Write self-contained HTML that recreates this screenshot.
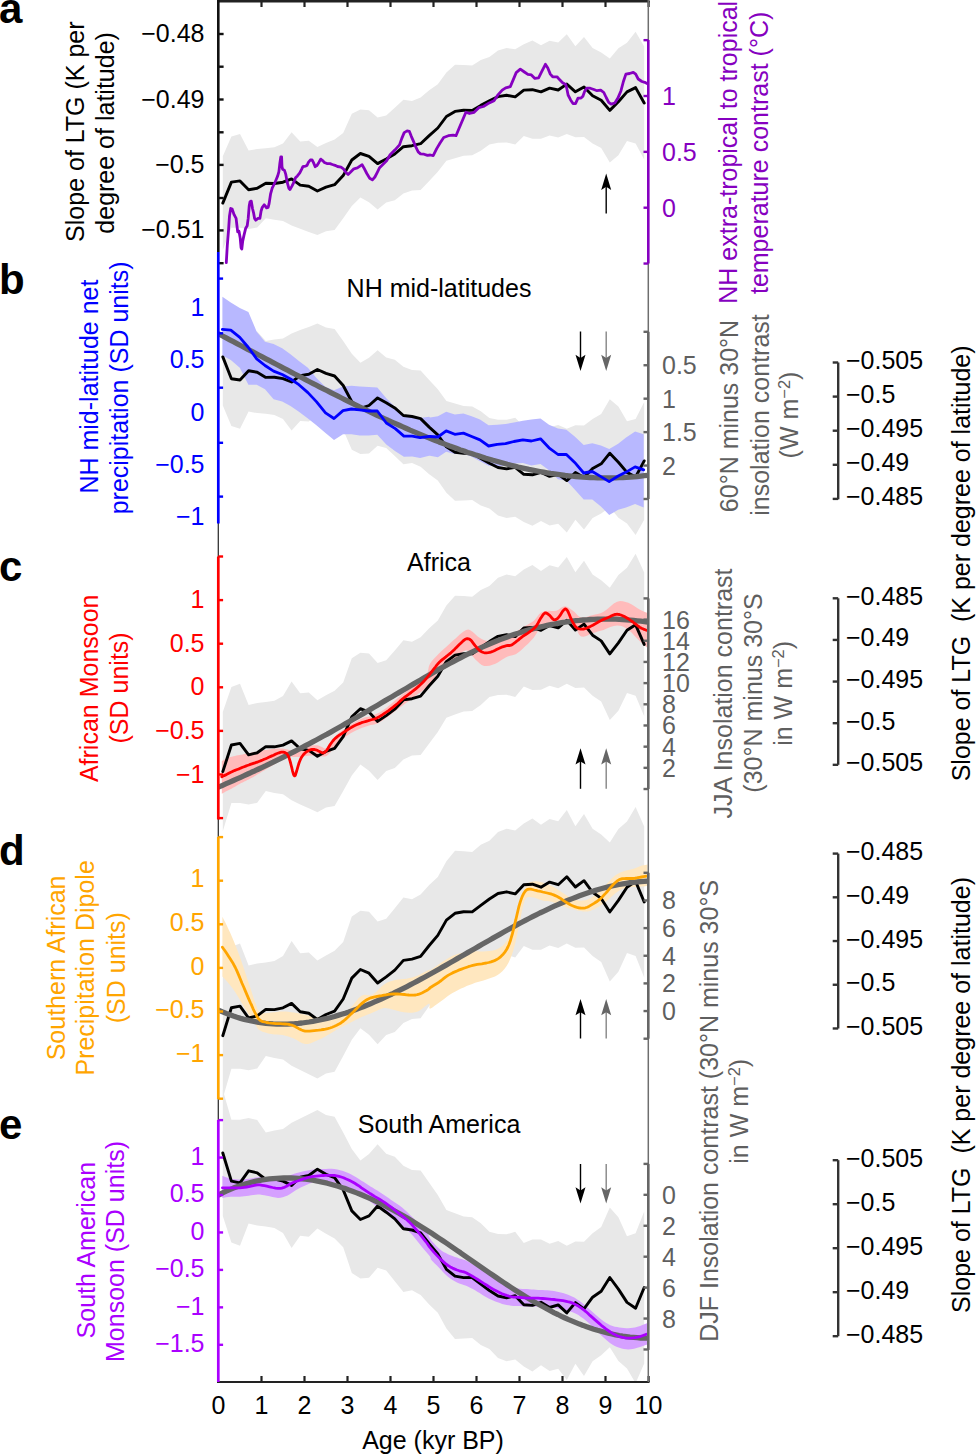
<!DOCTYPE html>
<html><head><meta charset="utf-8"><style>
html,body{margin:0;padding:0;background:#fff;}
svg{display:block;}
text{font-family:"Liberation Sans",sans-serif;}
</style></head><body>
<svg width="976" height="1455" viewBox="0 0 976 1455">
<defs><clipPath id="pc"><rect x="218" y="0" width="431" height="1382"/></clipPath></defs>
<g clip-path="url(#pc)" stroke-linejoin="round" stroke-linecap="round">

<polygon points="222.8,156.2 231.4,136.5 240.0,134.0 248.6,150.6 257.2,149.0 265.8,148.3 274.4,147.2 283.0,143.5 291.6,132.2 300.2,141.4 308.8,140.8 317.4,146.9 326.0,143.0 334.6,139.4 343.2,132.9 351.8,113.8 360.4,109.6 369.0,110.2 377.6,117.6 386.2,115.5 394.8,107.7 403.4,99.7 412.0,101.0 420.6,97.4 429.2,90.2 437.8,84.2 446.4,72.4 455.0,64.7 463.6,64.9 472.2,65.5 480.8,60.1 489.4,57.1 498.0,50.6 506.6,48.1 515.2,49.3 523.8,44.2 532.4,40.6 541.0,45.2 549.6,40.7 558.2,42.5 566.8,34.2 575.4,46.3 584.0,37.1 592.6,48.1 601.2,52.5 609.8,58.5 618.4,48.3 627.0,42.7 635.6,31.8 644.2,46.4 644.2,159.5 635.6,143.4 627.0,141.1 618.4,155.2 609.8,162.4 601.2,148.0 592.6,143.4 584.0,136.9 575.4,137.2 566.8,134.0 558.2,137.5 549.6,135.5 541.0,138.7 532.4,138.8 523.8,136.0 515.2,144.4 506.6,142.5 498.0,142.7 489.4,144.4 480.8,150.7 472.2,155.3 463.6,155.7 455.0,158.2 446.4,160.7 437.8,171.8 429.2,180.9 420.6,190.0 412.0,190.5 403.4,193.6 394.8,200.3 386.2,202.5 377.6,209.5 369.0,202.3 360.4,197.5 351.8,206.1 343.2,218.2 334.6,230.0 326.0,231.3 317.4,235.1 308.8,231.9 300.2,228.8 291.6,225.6 283.0,220.9 274.4,219.8 265.8,218.3 257.2,227.5 248.6,229.0 240.0,227.8 231.4,227.8 222.8,249.9" fill="#e8e8e8"/>
<polyline points="222.8,203.1 231.4,182.1 240.0,180.9 248.6,189.8 257.2,188.3 265.8,183.3 274.4,183.5 283.0,182.2 291.6,178.9 300.2,185.1 308.8,186.3 317.4,191.0 326.0,187.2 334.6,184.7 343.2,175.6 351.8,160.0 360.4,153.5 369.0,156.3 377.6,163.6 386.2,159.0 394.8,154.0 403.4,146.7 412.0,145.7 420.6,143.7 429.2,135.6 437.8,128.0 446.4,116.5 455.0,111.4 463.6,110.3 472.2,110.4 480.8,105.4 489.4,100.8 498.0,96.6 506.6,95.3 515.2,96.9 523.8,90.1 532.4,89.7 541.0,91.9 549.6,88.1 558.2,90.0 566.8,84.1 575.4,91.8 584.0,87.0 592.6,95.7 601.2,100.2 609.8,110.4 618.4,101.8 627.0,91.9 635.6,87.6 644.2,103.0" fill="none" stroke="#000" stroke-width="2.9"/>

<polyline points="226.3,262.6 227.3,245.4 228.5,230.7 229.5,215.9 230.7,208.5 232.2,209.1 234.1,214.7 236.1,218.4 237.1,227.0 237.7,231.9 239.0,231.3 240.2,238.0 241.1,247.9 241.8,249.1 242.7,241.1 243.9,235.6 245.7,228.2 247.2,225.7 248.2,218.4 249.2,206.1 250.0,201.8 251.3,201.1 252.5,208.5 253.7,213.4 254.6,218.4 255.8,220.2 258.0,218.4 259.9,218.4 261.1,211.0 262.3,207.3 264.2,204.8 265.4,206.1 266.6,207.9 268.1,207.5 269.1,203.6 270.6,193.8 272.2,188.2 274.0,184.5 275.9,180.2 277.7,175.9 278.9,171.6 279.9,163.0 280.8,156.9 281.6,156.9 282.0,166.7 282.6,169.2 284.5,170.4 285.7,174.1 287.3,182.7 288.8,188.2 290.0,189.5 291.8,186.4 293.7,182.7 295.5,177.8 297.4,175.9 299.8,172.9 301.7,169.2 302.9,166.7 305.4,166.1 307.0,165.5 308.4,162.4 310.3,160.0 312.1,160.0 313.4,162.4 315.2,166.7 317.0,165.5 318.9,162.4 320.7,159.1 322.6,160.6 324.4,162.4 326.9,163.6 330.0,163.6 332.4,164.5 335.0,165.3 337.5,166.5 341.0,167.1 343.4,168.8 345.7,172.3 348.1,174.5 350.4,172.3 353.9,168.8 357.4,167.9 360.3,165.9 362.1,164.8 363.8,167.7 366.8,173.5 369.7,178.2 372.4,179.9 374.9,177.0 377.3,172.3 379.6,167.7 383.1,164.2 386.6,160.7 390.1,154.8 394.8,150.1 399.5,144.9 401.8,138.4 404.2,132.6 407.1,130.9 409.4,131.4 411.2,136.1 413.5,141.4 415.9,147.2 418.2,151.9 420.5,153.9 424.0,154.2 427.5,155.4 430.3,155.0 433.2,155.6 436.7,148.6 440.2,142.7 443.7,137.5 448.4,135.7 453.1,135.1 456.0,135.7 458.9,128.7 462.4,120.5 465.9,112.3 469.4,113.5 474.1,112.3 478.8,107.7 483.4,106.5 488.1,103.6 494.0,100.7 497.5,95.4 502.2,90.1 505.7,87.8 510.3,86.6 513.8,78.4 516.2,72.6 520.3,69.1 524.4,72.0 527.9,74.4 531.4,74.9 534.9,78.4 538.6,77.8 541.7,71.6 545.4,64.3 547.8,68.0 550.3,74.1 552.7,76.8 557.0,76.8 559.5,79.6 562.6,82.7 565.7,84.5 566.9,88.9 568.1,95.0 570.6,99.9 573.0,103.6 575.5,103.6 578.0,98.1 581.0,98.1 582.9,96.2 584.7,91.3 586.6,88.2 590.2,88.2 593.9,89.5 597.0,90.7 600.7,90.1 603.8,92.5 606.2,97.5 608.7,102.4 611.1,104.2 614.8,103.0 617.9,98.1 621.0,90.7 623.4,81.5 625.9,74.1 629.6,73.5 633.3,72.3 635.7,74.1 638.2,79.0 641.9,81.5 645.6,82.7 648.0,83.9" fill="none" stroke="#8600c0" stroke-width="2.8"/>
<polygon points="222.8,405.6 231.4,426.1 240.0,428.7 248.6,411.5 257.2,413.1 265.8,413.8 274.4,414.9 283.0,418.9 291.6,430.5 300.2,421.0 308.8,421.6 317.4,415.3 326.0,419.3 334.6,423.1 343.2,429.8 351.8,449.7 360.4,454.1 369.0,453.4 377.6,445.7 386.2,447.9 394.8,456.0 403.4,464.3 412.0,463.0 420.6,466.8 429.2,474.2 437.8,480.5 446.4,492.7 455.0,500.7 463.6,500.5 472.2,499.9 480.8,505.5 489.4,508.6 498.0,515.4 506.6,517.9 515.2,516.7 523.8,522.0 532.4,525.8 541.0,521.0 549.6,525.6 558.2,523.8 566.8,532.4 575.4,519.8 584.0,529.4 592.6,518.0 601.2,513.4 609.8,507.2 618.4,517.7 627.0,523.6 635.6,535.0 644.2,519.7 644.2,402.1 635.6,419.0 627.0,421.3 618.4,406.6 609.8,399.2 601.2,414.1 592.6,418.9 584.0,425.6 575.4,425.3 566.8,428.7 558.2,425.0 549.6,427.2 541.0,423.8 532.4,423.7 523.8,426.6 515.2,417.8 506.6,419.8 498.0,419.7 489.4,417.9 480.8,411.3 472.2,406.5 463.6,406.1 455.0,403.6 446.4,400.9 437.8,389.3 429.2,379.9 420.6,370.5 412.0,370.0 403.4,366.7 394.8,359.8 386.2,357.5 377.6,350.2 369.0,357.7 360.4,362.7 351.8,353.7 343.2,341.1 334.6,328.9 326.0,327.5 317.4,323.6 308.8,327.0 300.2,330.1 291.6,333.5 283.0,338.4 274.4,339.5 265.8,341.0 257.2,331.5 248.6,330.0 240.0,331.2 231.4,331.2 222.8,308.2" fill="#e8e8e8"/>
<polygon points="222.4,296.8 230.8,302.4 239.8,308.0 248.4,311.9 256.7,331.7 265.0,341.8 273.6,344.1 282.2,348.2 290.5,354.2 298.9,361.0 307.9,367.8 316.4,377.9 325.5,386.9 334.0,390.3 343.0,386.5 351.4,385.8 359.7,386.5 368.7,386.9 377.3,387.4 386.3,398.2 395.3,407.2 403.9,415.1 412.2,416.2 420.1,418.0 429.1,416.7 430.0,417.4 437.9,416.2 446.2,411.7 454.8,414.4 463.4,413.5 471.7,416.2 480.0,419.6 488.6,425.2 497.2,424.8 505.5,424.1 513.9,422.5 522.9,420.7 531.4,419.6 540.5,418.5 549.0,424.8 558.0,428.6 566.4,429.8 574.7,436.5 583.7,445.1 592.3,443.3 600.9,445.5 609.2,448.9 618.2,443.7 626.1,437.6 635.1,431.6 643.7,434.3 643.7,507.5 635.1,504.1 626.1,507.5 618.2,509.8 609.2,515.0 600.9,506.4 592.3,499.6 583.7,499.6 574.7,489.5 566.4,480.5 558.0,479.3 549.0,470.3 540.5,464.0 531.4,465.4 522.9,463.1 513.9,463.6 505.5,465.8 497.2,466.3 488.6,465.8 480.0,461.3 471.7,456.8 463.4,453.4 454.8,454.1 446.2,451.8 437.9,457.3 430.0,455.7 429.1,455.7 420.1,457.9 412.2,456.4 403.9,456.8 395.3,451.2 386.3,444.4 377.3,434.7 368.7,435.4 359.7,435.4 351.4,434.3 343.0,434.3 334.0,439.9 325.5,433.1 316.4,425.2 307.9,418.5 298.9,411.7 290.5,406.1 282.2,401.6 273.6,399.3 265.0,389.2 256.7,384.7 248.4,384.7 239.8,367.8 230.8,359.9 222.4,355.4" fill="#b8b8ff"/>
<polyline points="222.8,356.9 231.4,378.7 240.0,380.0 248.6,370.7 257.2,372.3 265.8,377.4 274.4,377.2 283.0,378.6 291.6,382.0 300.2,375.6 308.8,374.3 317.4,369.5 326.0,373.4 334.6,376.0 343.2,385.5 351.8,401.7 360.4,408.4 369.0,405.5 377.6,397.9 386.2,402.7 394.8,407.9 403.4,415.5 412.0,416.5 420.6,418.6 429.2,427.1 437.8,434.9 446.4,446.8 455.0,452.2 463.6,453.3 472.2,453.2 480.8,458.4 489.4,463.2 498.0,467.5 506.6,468.9 515.2,467.3 523.8,474.3 532.4,474.8 541.0,472.4 549.6,476.4 558.2,474.4 566.8,480.6 575.4,472.6 584.0,477.5 592.6,468.5 601.2,463.8 609.8,453.2 618.4,462.2 627.0,472.4 635.6,477.0 644.2,460.9" fill="none" stroke="#000" stroke-width="2.9"/>
<polyline points="219.0,334.1 222.6,336.0 226.2,337.9 229.8,339.8 233.4,341.7 237.0,343.6 240.6,345.5 244.2,347.4 247.8,349.3 251.4,351.2 255.1,353.1 258.7,355.0 262.3,356.9 265.9,358.8 269.5,360.7 273.1,362.6 276.7,364.5 280.3,366.4 283.9,368.3 287.5,370.2 291.1,372.1 294.7,374.0 298.3,375.9 301.9,377.7 305.5,379.6 309.1,381.5 312.7,383.4 316.3,385.2 319.9,387.1 323.5,388.9 327.2,390.7 330.8,392.6 334.4,394.4 338.0,396.2 341.6,398.0 345.2,399.8 348.8,401.6 352.4,403.4 356.0,405.1 359.6,406.9 363.2,408.6 366.8,410.4 370.4,412.1 374.0,413.8 377.6,415.5 381.2,417.2 384.8,418.8 388.4,420.5 392.0,422.1 395.6,423.7 399.3,425.3 402.9,426.9 406.5,428.5 410.1,430.1 413.7,431.6 417.3,433.1 420.9,434.6 424.5,436.1 428.1,437.6 431.7,439.0 435.3,440.5 438.9,441.9 442.5,443.2 446.1,444.6 449.7,446.0 453.3,447.3 456.9,448.6 460.5,449.9 464.1,451.1 467.7,452.4 471.4,453.6 475.0,454.8 478.6,455.9 482.2,457.0 485.8,458.2 489.4,459.2 493.0,460.3 496.6,461.3 500.2,462.3 503.8,463.3 507.4,464.3 511.0,465.2 514.6,466.1 518.2,467.0 521.8,467.8 525.4,468.6 529.0,469.4 532.6,470.1 536.2,470.8 539.8,471.5 543.5,472.2 547.1,472.8 550.7,473.4 554.3,473.9 557.9,474.4 561.5,474.9 565.1,475.4 568.7,475.8 572.3,476.2 575.9,476.5 579.5,476.8 583.1,477.1 586.7,477.3 590.3,477.5 593.9,477.7 597.5,477.8 601.1,477.9 604.7,477.9 608.3,477.9 611.9,477.9 615.6,477.8 619.2,477.7 622.8,477.5 626.4,477.3 630.0,477.1 633.6,476.8 637.2,476.5 640.8,476.1 644.4,475.7 648.0,475.3" fill="none" stroke="#666" stroke-width="5.3"/>
<polyline points="222.4,329.4 230.8,330.1 239.8,337.3 248.4,347.5 256.7,358.8 265.0,365.5 273.6,371.1 282.2,374.5 290.5,379.0 298.9,384.7 307.9,392.6 316.4,401.6 325.5,412.8 334.0,418.5 343.0,410.6 351.4,409.0 359.7,409.9 368.7,411.0 377.3,411.0 386.3,423.0 395.3,428.6 403.9,436.1 412.2,436.1 420.1,437.6 429.1,436.5 430.0,436.5 437.9,437.0 446.2,430.9 454.8,434.3 463.4,433.1 471.7,436.5 480.0,439.9 488.6,446.0 497.2,444.4 505.5,443.7 513.9,441.5 522.9,439.9 531.4,441.0 540.5,438.8 549.0,447.8 558.0,454.5 566.4,454.5 574.7,462.4 583.7,473.0 592.3,471.5 600.9,476.6 609.2,481.6 618.2,476.0 626.1,472.1 635.1,466.9 643.7,469.9" fill="none" stroke="#0000ff" stroke-width="2.8"/>
<polygon points="222.8,712.1 231.4,686.9 240.0,683.8 248.6,704.9 257.2,702.9 265.8,702.1 274.4,700.7 283.0,695.9 291.6,681.6 300.2,693.2 308.8,692.4 317.4,700.2 326.0,695.3 334.6,690.7 343.2,682.5 351.8,658.2 360.4,652.8 369.0,653.6 377.6,663.0 386.2,660.3 394.8,650.4 403.4,640.2 412.0,641.8 420.6,637.2 429.2,628.2 437.8,620.4 446.4,605.5 455.0,595.7 463.6,596.0 472.2,596.7 480.8,589.9 489.4,586.1 498.0,577.7 506.6,574.6 515.2,576.2 523.8,569.6 532.4,565.0 541.0,570.9 549.6,565.3 558.2,567.5 566.8,556.9 575.4,572.3 584.0,560.7 592.6,574.6 601.2,580.2 609.8,587.8 618.4,574.9 627.0,567.7 635.6,553.8 644.2,572.5 644.2,716.3 635.6,695.7 627.0,692.9 618.4,710.8 609.8,719.9 601.2,701.6 592.6,695.8 584.0,687.6 575.4,687.9 566.8,683.8 558.2,688.3 549.6,685.7 541.0,689.8 532.4,689.9 523.8,686.4 515.2,697.1 506.6,694.7 498.0,694.9 489.4,697.1 480.8,705.1 472.2,710.9 463.6,711.5 455.0,714.6 446.4,717.8 437.8,732.0 429.2,743.5 420.6,755.0 412.0,755.6 403.4,759.6 394.8,768.1 386.2,771.0 377.6,779.9 369.0,770.7 360.4,764.5 351.8,775.5 343.2,790.9 334.6,805.9 326.0,807.6 317.4,812.3 308.8,808.3 300.2,804.4 291.6,800.2 283.0,794.3 274.4,793.0 265.8,791.1 257.2,802.7 248.6,804.6 240.0,803.1 231.4,803.0 222.8,831.2" fill="#e8e8e8"/>
<polygon points="221.8,761.2 222.7,760.6 224.1,759.8 225.7,758.9 227.3,758.1 228.8,757.6 230.3,757.1 231.9,756.7 233.4,756.3 235.0,755.9 236.5,755.6 238.1,755.3 239.6,755.0 241.1,754.7 242.7,754.4 244.2,754.1 245.7,753.8 247.3,753.5 248.8,753.2 250.3,752.9 251.9,752.6 253.4,752.3 255.0,752.0 256.5,751.7 258.0,751.4 259.6,751.0 261.1,750.7 262.6,750.4 264.2,750.1 265.7,749.9 267.3,749.7 268.8,749.5 270.3,749.3 271.9,749.1 273.4,748.8 274.9,748.7 276.5,748.5 278.0,748.4 279.6,748.4 281.2,748.4 282.6,748.5 283.9,748.7 285.1,748.9 286.3,749.2 287.5,749.5 289.0,749.9 290.5,750.3 292.0,750.6 293.7,750.7 295.4,750.6 297.3,750.4 299.2,750.0 301.1,749.5 302.9,748.8 304.8,748.0 306.6,747.1 308.4,746.4 310.3,745.9 312.3,745.6 314.1,745.3 315.8,745.2 317.2,745.3 318.4,745.6 319.6,746.0 320.7,746.4 322.0,747.0 323.2,747.8 324.4,748.4 325.7,748.3 326.9,747.3 328.0,745.8 329.3,743.9 330.6,742.1 332.0,740.3 333.4,738.5 335.0,736.5 336.7,734.7 338.8,732.9 341.1,731.2 343.4,729.5 345.7,727.9 348.0,726.4 350.2,725.0 352.5,723.6 354.8,722.3 357.0,721.0 359.3,719.8 361.5,718.7 363.8,717.8 366.0,717.1 368.3,716.7 370.5,716.2 372.8,715.5 375.0,714.6 377.3,713.6 379.5,712.4 381.8,711.0 384.1,709.5 386.3,707.9 388.6,706.1 390.8,704.3 393.1,702.3 395.3,700.3 397.6,698.3 399.8,696.4 402.1,694.6 404.3,692.9 406.6,691.3 408.9,689.6 411.1,688.0 413.4,686.4 415.6,684.7 417.9,682.8 420.3,680.8 422.7,678.6 425.0,676.2 426.9,673.8 427.9,671.4 428.4,668.8 428.9,666.3 430.0,663.7 431.7,661.2 433.9,658.8 436.3,656.2 439.0,653.5 442.1,650.6 445.5,647.4 449.1,644.2 452.5,641.1 456.1,637.9 459.7,634.6 463.2,631.7 466.1,629.9 468.2,629.4 469.9,629.9 471.3,631.0 472.8,632.1 474.5,633.4 476.1,634.9 477.7,636.4 479.6,637.8 481.6,638.9 483.8,640.0 486.1,640.8 488.6,641.1 491.3,640.8 494.1,639.9 497.0,638.8 499.9,637.8 502.7,637.0 505.5,636.3 508.3,635.5 511.1,634.4 514.0,632.9 516.8,631.2 519.6,629.4 522.4,627.6 525.3,626.0 528.3,624.3 531.2,622.6 533.7,620.9 535.7,618.8 537.4,616.6 538.9,614.6 540.5,613.0 542.1,612.0 543.7,611.4 545.4,611.0 547.2,610.7 549.3,610.7 551.6,610.9 553.9,611.0 556.2,610.7 558.5,609.7 560.7,608.1 563.0,606.7 565.2,606.2 567.6,606.9 569.9,608.4 572.2,610.2 574.3,611.8 576.0,613.4 577.5,615.2 579.1,616.6 581.0,617.5 583.5,617.5 586.4,616.9 589.4,616.1 592.3,615.2 595.1,614.6 597.8,614.0 600.6,613.2 603.6,611.8 606.8,609.5 610.3,606.5 613.8,603.6 617.1,601.7 620.1,601.1 622.9,601.2 625.6,601.9 628.4,602.8 631.3,604.2 634.2,606.1 637.1,608.0 639.6,609.6 642.0,610.8 644.3,611.7 646.2,612.4 647.5,613.0 647.5,647.9 646.2,646.8 644.3,645.2 642.0,643.3 639.6,641.1 637.1,638.5 634.2,635.4 631.3,632.3 628.4,629.9 625.6,628.1 622.9,626.6 620.1,625.7 617.1,625.4 613.8,625.9 610.3,627.1 606.8,628.6 603.6,629.9 600.6,630.8 597.8,631.6 595.1,632.4 592.3,633.3 589.4,634.4 586.4,635.9 583.5,636.8 581.0,636.6 579.1,634.7 577.5,631.6 576.0,628.2 574.3,625.4 572.2,623.0 569.9,620.8 567.6,619.2 565.2,618.6 563.0,619.8 560.7,622.2 558.5,624.8 556.2,626.5 553.9,626.8 551.6,626.3 549.3,625.6 547.2,625.4 545.4,625.5 543.7,625.8 542.1,626.4 540.5,627.6 538.8,629.6 537.2,632.3 535.5,635.1 533.7,637.8 531.6,640.1 529.3,642.4 527.0,644.7 524.7,646.8 522.4,648.9 520.2,650.9 517.9,652.7 515.7,654.2 513.5,655.1 511.3,655.6 509.1,656.1 506.6,656.9 504.0,658.4 501.1,660.3 498.2,662.2 495.4,663.7 492.5,664.8 489.6,665.7 486.8,666.1 484.1,665.9 481.7,664.9 479.4,663.3 477.3,661.2 475.1,659.2 472.9,656.6 470.9,653.5 468.6,651.0 466.1,650.2 463.0,651.6 459.6,654.6 456.0,658.2 452.5,661.4 449.0,664.0 445.4,666.5 442.0,669.0 439.0,671.6 436.5,674.6 434.4,677.8 432.7,680.7 431.4,682.8 430.8,683.7 430.7,683.7 430.6,683.5 430.0,684.0 428.6,685.3 426.7,687.0 424.5,688.9 422.4,690.7 420.2,692.4 418.0,694.1 415.6,695.8 413.4,697.5 411.1,699.2 408.9,700.9 406.6,702.6 404.3,704.3 402.1,706.0 399.8,707.6 397.6,709.3 395.3,711.0 393.1,712.7 390.8,714.5 388.6,716.2 386.3,717.8 384.1,719.4 381.8,720.9 379.5,722.3 377.3,723.4 375.0,724.2 372.8,724.7 370.5,725.1 368.3,725.7 366.0,726.4 363.8,727.2 361.5,728.1 359.3,729.1 357.0,730.1 354.8,731.1 352.5,732.3 350.2,733.6 348.0,735.0 345.8,736.6 343.5,738.3 341.2,740.3 338.8,742.8 336.3,745.6 333.9,748.4 331.8,750.7 330.3,752.4 329.1,753.8 328.0,754.8 326.9,755.7 325.7,756.2 324.5,756.5 323.3,756.6 322.0,756.6 320.5,756.5 319.0,756.2 317.5,755.9 315.8,755.7 314.1,755.6 312.2,755.5 310.3,755.5 308.4,755.7 306.6,755.9 304.8,756.3 302.9,756.6 301.1,756.9 299.2,757.0 297.3,757.0 295.4,756.9 293.7,756.9 292.0,756.8 290.5,756.7 289.0,756.7 287.5,756.9 286.3,757.3 285.1,757.9 283.9,758.6 282.6,759.3 281.2,760.2 279.6,761.1 278.0,762.1 276.5,763.0 274.9,764.0 273.4,764.9 271.9,765.8 270.3,766.7 268.8,767.6 267.3,768.6 265.7,769.5 264.2,770.4 262.6,771.3 261.1,772.3 259.6,773.2 258.0,774.1 256.5,775.0 255.0,776.0 253.4,776.9 251.9,777.8 250.3,778.6 248.8,779.4 247.3,780.1 245.7,780.9 244.2,781.6 242.7,782.4 241.1,783.1 239.6,783.9 238.1,784.8 236.5,785.8 235.0,786.7 233.4,787.6 231.9,788.4 230.3,789.2 228.8,789.9 227.3,790.7 225.7,791.5 224.1,792.4 222.7,793.2 221.8,793.8" fill="#ffbbbb"/>
<polyline points="222.8,771.6 231.4,745.0 240.0,743.4 248.6,754.8 257.2,752.8 265.8,746.6 274.4,746.8 283.0,745.1 291.6,740.9 300.2,748.8 308.8,750.4 317.4,756.3 326.0,751.4 334.6,748.3 343.2,736.7 351.8,716.8 360.4,708.7 369.0,712.1 377.6,721.4 386.2,715.6 394.8,709.2 403.4,699.9 412.0,698.7 420.6,696.1 429.2,685.8 437.8,676.2 446.4,661.6 455.0,655.1 463.6,653.7 472.2,653.8 480.8,647.5 489.4,641.6 498.0,636.3 506.6,634.6 515.2,636.6 523.8,628.0 532.4,627.5 541.0,630.3 549.6,625.5 558.2,627.9 566.8,620.4 575.4,630.1 584.0,624.1 592.6,635.2 601.2,640.9 609.8,653.9 618.4,642.9 627.0,630.3 635.6,624.8 644.2,644.4" fill="none" stroke="#000" stroke-width="2.9"/>
<polyline points="219.0,786.9 222.6,785.3 226.2,783.7 229.8,782.1 233.4,780.5 237.0,778.9 240.6,777.3 244.2,775.7 247.8,774.0 251.4,772.3 255.1,770.7 258.7,769.0 262.3,767.3 265.9,765.6 269.5,763.8 273.1,762.1 276.7,760.3 280.3,758.6 283.9,756.8 287.5,755.0 291.1,753.2 294.7,751.3 298.3,749.5 301.9,747.6 305.5,745.7 309.1,743.8 312.7,741.9 316.3,740.0 319.9,738.0 323.5,736.0 327.2,734.1 330.8,732.1 334.4,730.0 338.0,728.0 341.6,726.0 345.2,723.9 348.8,721.9 352.4,719.8 356.0,717.7 359.6,715.7 363.2,713.6 366.8,711.5 370.4,709.4 374.0,707.3 377.6,705.2 381.2,703.0 384.8,700.9 388.4,698.8 392.0,696.7 395.6,694.5 399.3,692.4 402.9,690.3 406.5,688.2 410.1,686.0 413.7,683.9 417.3,681.8 420.9,679.7 424.5,677.6 428.1,675.6 431.7,673.5 435.3,671.5 438.9,669.4 442.5,667.4 446.1,665.4 449.7,663.5 453.3,661.6 456.9,659.6 460.5,657.8 464.1,655.9 467.7,654.1 471.4,652.3 475.0,650.6 478.6,648.9 482.2,647.2 485.8,645.6 489.4,644.0 493.0,642.5 496.6,641.0 500.2,639.6 503.8,638.2 507.4,636.9 511.0,635.6 514.6,634.3 518.2,633.2 521.8,632.0 525.4,630.9 529.0,629.9 532.6,628.9 536.2,627.9 539.8,627.1 543.5,626.2 547.1,625.4 550.7,624.7 554.3,624.0 557.9,623.3 561.5,622.7 565.1,622.1 568.7,621.6 572.3,621.2 575.9,620.7 579.5,620.4 583.1,620.0 586.7,619.8 590.3,619.5 593.9,619.3 597.5,619.2 601.1,619.1 604.7,619.1 608.3,619.1 611.9,619.1 615.6,619.2 619.2,619.4 622.8,619.6 626.4,619.8 630.0,620.1 633.6,620.4 637.2,620.8 640.8,621.2 644.4,621.6 648.0,622.1" fill="none" stroke="#666" stroke-width="5.3"/>
<polyline points="221.8,776.8 222.7,776.3 224.1,775.6 225.7,774.9 227.3,774.1 228.8,773.3 230.3,772.5 231.9,771.8 233.4,771.0 235.0,770.4 236.5,769.8 238.1,769.2 239.6,768.6 241.1,767.9 242.7,767.3 244.2,766.7 245.7,766.1 247.3,765.5 248.8,765.0 250.3,764.4 251.9,763.9 253.4,763.4 255.0,762.9 256.5,762.3 258.0,761.8 259.6,761.2 261.1,760.6 262.6,760.0 264.2,759.3 265.7,758.7 267.3,758.0 268.8,757.3 270.3,756.6 271.9,755.9 273.5,755.2 275.0,754.4 276.5,753.8 277.8,753.3 279.1,752.8 280.3,752.4 281.4,752.2 282.4,752.1 283.4,752.1 284.2,752.3 285.1,752.6 285.9,753.1 286.7,753.7 287.4,754.5 288.2,755.7 288.8,757.1 289.4,758.9 290.0,760.9 290.6,763.0 291.2,765.5 291.9,768.2 292.5,770.8 293.1,772.9 293.5,774.3 293.9,775.2 294.3,775.8 294.7,775.9 295.0,775.7 295.4,775.1 295.7,774.2 296.1,772.9 296.7,771.0 297.3,768.8 298.0,766.4 298.6,764.3 299.2,762.5 299.8,761.0 300.4,759.5 301.1,758.1 301.9,756.8 302.8,755.5 303.7,754.3 304.8,753.2 305.9,752.2 307.1,751.4 308.4,750.7 309.7,750.1 310.9,749.7 312.1,749.5 313.4,749.4 314.6,749.5 315.8,749.8 317.1,750.3 318.4,750.9 319.5,751.4 320.5,751.9 321.4,752.4 322.3,752.9 323.2,753.0 324.1,752.6 325.0,752.0 326.0,751.2 326.9,750.1 327.8,748.8 328.6,747.2 329.6,745.6 330.6,744.0 331.7,742.5 332.8,741.0 334.1,739.5 335.6,738.1 337.3,736.6 339.3,735.2 341.4,733.8 343.5,732.4 345.7,731.0 347.9,729.5 350.2,728.1 352.5,726.8 354.8,725.6 357.0,724.6 359.3,723.6 361.5,722.7 363.8,722.0 366.2,721.3 368.4,720.7 370.5,720.0 372.3,719.5 373.9,719.1 375.5,718.6 377.3,717.8 379.4,716.6 381.7,715.3 384.0,713.7 386.3,712.2 388.6,710.6 390.8,708.9 393.1,707.2 395.3,705.4 397.6,703.5 399.8,701.4 402.1,699.4 404.3,697.5 406.6,695.8 408.9,694.1 411.1,692.5 413.4,690.7 415.7,688.8 418.0,686.9 420.3,684.8 422.4,682.8 424.4,680.7 426.3,678.5 427.9,676.5 429.1,675.0 429.7,674.3 429.7,674.3 429.7,674.3 430.0,673.8 430.9,672.7 432.0,671.3 433.3,669.7 434.5,668.2 435.6,666.8 436.6,665.4 437.7,664.0 439.0,662.6 440.5,661.2 442.3,659.7 444.0,658.3 445.8,656.9 447.5,655.5 449.2,654.2 450.9,652.8 452.5,651.3 454.2,649.7 455.9,647.9 457.6,646.2 459.3,644.5 461.0,642.9 462.8,641.2 464.5,639.8 466.1,638.9 467.4,638.6 468.5,638.8 469.5,639.3 470.6,640.0 471.7,641.1 472.8,642.6 473.9,644.1 475.1,645.7 476.4,647.2 477.8,648.7 479.3,650.2 480.7,651.3 482.1,652.0 483.5,652.5 484.9,652.8 486.4,652.9 488.0,652.7 489.7,652.4 491.4,651.9 493.1,651.3 494.8,650.5 496.5,649.6 498.2,648.7 499.9,647.9 501.6,647.2 503.4,646.6 505.1,646.1 506.6,645.7 507.9,645.5 509.0,645.5 510.0,645.5 511.1,645.2 512.5,644.5 513.9,643.4 515.3,642.3 516.8,641.1 518.2,640.1 519.5,638.9 520.9,637.8 522.4,636.6 524.0,635.5 525.7,634.5 527.5,633.3 529.2,632.1 530.9,630.9 532.7,629.5 534.4,628.1 535.9,626.5 537.2,624.6 538.3,622.6 539.4,620.5 540.5,618.6 541.6,616.9 542.7,615.2 543.8,613.8 545.0,613.0 546.1,612.9 547.2,613.5 548.3,614.3 549.5,615.2 550.6,616.4 551.7,617.8 552.8,619.0 554.0,619.7 555.1,619.8 556.2,619.4 557.3,618.6 558.5,617.5 559.9,615.7 561.4,613.3 562.8,611.1 564.1,609.6 565.1,609.0 565.9,609.0 566.6,609.6 567.5,610.7 568.5,612.7 569.7,615.4 570.9,618.4 572.0,620.9 573.1,622.9 574.2,624.8 575.3,626.4 576.5,627.6 577.8,628.5 579.3,628.9 580.7,629.1 582.2,629.2 583.5,629.1 584.9,628.7 586.3,628.2 587.8,627.6 589.4,626.9 591.1,626.1 592.8,625.2 594.5,624.2 596.2,623.3 597.9,622.3 599.6,621.3 601.3,620.4 603.0,619.6 604.7,618.9 606.4,618.2 608.1,617.5 609.8,616.7 611.6,615.8 613.3,615.1 614.8,614.5 616.1,614.3 617.1,614.2 618.1,614.3 619.3,614.5 620.9,615.0 622.6,615.7 624.4,616.6 626.1,617.5 627.8,618.5 629.5,619.6 631.2,620.8 632.9,622.0 634.6,623.3 636.3,624.7 637.9,626.0 639.6,627.2 641.5,628.2 643.4,629.1 645.2,629.8 646.4,630.3" fill="none" stroke="#ff0000" stroke-width="2.8"/>
<polygon points="222.8,973.1 231.4,946.7 240.0,943.4 248.6,965.6 257.2,963.5 265.8,962.6 274.4,961.1 283.0,956.1 291.6,941.1 300.2,953.3 308.8,952.5 317.4,960.6 326.0,955.5 334.6,950.7 343.2,942.0 351.8,916.5 360.4,910.8 369.0,911.7 377.6,921.6 386.2,918.8 394.8,908.3 403.4,897.6 412.0,899.3 420.6,894.5 429.2,885.0 437.8,876.9 446.4,861.2 455.0,850.8 463.6,851.2 472.2,852.0 480.8,844.8 489.4,840.7 498.0,832.0 506.6,828.7 515.2,830.4 523.8,823.5 532.4,818.6 541.0,824.8 549.6,818.9 558.2,821.3 566.8,810.1 575.4,826.3 584.0,814.1 592.6,828.7 601.2,834.6 609.8,842.6 618.4,829.0 627.0,821.5 635.6,806.9 644.2,826.5 644.2,977.5 635.6,956.0 627.0,952.9 618.4,971.8 609.8,981.4 601.2,962.1 592.6,956.0 584.0,947.4 575.4,947.7 566.8,943.4 558.2,948.1 549.6,945.4 541.0,949.7 532.4,949.8 523.8,946.1 515.2,957.4 506.6,954.8 498.0,955.0 489.4,957.4 480.8,965.8 472.2,971.9 463.6,972.5 455.0,975.7 446.4,979.1 437.8,994.0 429.2,1006.1 420.6,1018.2 412.0,1018.9 403.4,1023.1 394.8,1032.0 386.2,1035.0 377.6,1044.3 369.0,1034.7 360.4,1028.2 351.8,1039.8 343.2,1056.0 334.6,1071.7 326.0,1073.4 317.4,1078.4 308.8,1074.2 300.2,1070.1 291.6,1065.7 283.0,1059.5 274.4,1058.1 265.8,1056.1 257.2,1068.4 248.6,1070.3 240.0,1068.7 231.4,1068.7 222.8,1098.3" fill="#e8e8e8"/>
<polygon points="222.4,916.8 223.5,918.9 225.1,922.0 226.8,925.6 228.5,929.2 230.2,932.8 231.9,936.7 233.6,940.8 235.3,945.0 237.0,949.3 238.7,953.7 240.4,958.3 242.0,963.0 243.7,967.9 245.4,973.0 247.1,978.2 248.8,983.3 250.6,988.6 252.3,994.1 254.0,999.3 255.6,1003.6 256.7,1006.8 257.5,1009.3 258.5,1011.2 260.1,1012.6 262.4,1013.2 265.3,1013.2 268.4,1012.9 271.4,1012.6 274.2,1012.3 277.0,1011.9 279.8,1011.6 282.6,1011.5 285.4,1011.6 288.3,1011.8 291.1,1012.2 293.9,1012.6 296.7,1013.1 299.5,1013.6 302.3,1014.2 305.2,1014.8 308.0,1015.5 310.8,1016.1 313.6,1016.7 316.4,1017.1 319.3,1017.2 322.1,1017.2 324.9,1017.1 327.7,1017.1 330.5,1017.3 333.3,1017.7 336.2,1017.7 339.0,1017.1 341.8,1015.5 344.6,1013.4 347.4,1010.8 350.2,1008.1 353.1,1004.9 355.9,1001.4 358.7,998.1 361.5,995.7 364.3,994.8 367.2,995.0 370.0,995.2 372.8,994.5 375.6,992.5 378.4,989.7 381.2,986.8 384.1,984.4 386.9,982.8 389.7,981.6 392.5,980.7 395.3,979.9 398.1,979.4 401.0,979.3 403.8,979.1 406.6,978.8 409.4,978.1 412.2,977.4 415.1,976.4 417.9,975.4 420.9,974.0 424.2,972.3 427.1,970.8 429.1,969.8 429.8,969.7 429.6,970.2 429.3,970.7 430.0,970.5 432.1,969.1 435.0,967.0 438.2,964.7 441.3,962.6 444.1,960.7 446.9,958.9 449.7,957.2 452.5,955.8 455.4,954.7 458.2,953.8 461.0,953.0 463.8,952.4 466.6,952.0 469.4,951.6 472.3,951.4 475.1,951.3 477.9,951.3 480.7,951.4 483.5,951.4 486.4,951.3 489.2,951.0 492.1,950.7 495.0,950.0 497.6,949.0 500.1,947.6 502.4,945.9 504.6,943.8 506.6,941.1 508.5,938.0 510.2,934.3 511.8,930.1 513.4,925.4 515.1,919.6 516.8,913.0 518.5,906.3 520.2,900.6 521.9,895.7 523.5,891.3 525.2,887.7 526.9,884.8 528.6,883.0 530.2,882.0 531.8,881.7 533.7,881.4 535.8,881.3 538.1,881.6 540.4,882.0 542.7,882.5 545.0,883.2 547.2,883.9 549.5,884.9 551.7,885.9 554.0,887.2 556.2,888.6 558.5,890.1 560.7,891.6 563.0,893.0 565.2,894.5 567.5,895.9 569.8,897.2 572.0,898.3 574.3,899.3 576.5,900.1 578.8,900.6 581.0,900.7 583.3,900.6 585.5,900.2 587.8,899.4 590.0,898.4 592.3,897.1 594.5,895.6 596.8,893.8 599.1,891.8 601.3,889.5 603.6,887.1 605.8,884.8 608.1,882.4 610.3,880.0 612.6,877.7 614.8,875.8 617.1,874.3 619.3,873.1 621.6,872.1 623.9,871.3 626.1,870.6 628.4,870.1 630.6,869.6 632.9,869.0 635.2,868.2 637.6,867.3 639.9,866.3 641.9,865.6 643.7,865.2 645.3,864.9 646.6,864.7 647.5,864.5 647.5,885.9 646.6,886.0 645.3,886.2 643.7,886.4 641.9,886.6 639.9,886.7 637.6,886.8 635.2,886.9 632.9,887.0 630.6,887.2 628.4,887.3 626.1,887.6 623.9,888.2 621.6,889.2 619.3,890.6 617.1,892.1 614.8,893.8 612.6,895.7 610.3,897.7 608.1,899.8 605.8,901.7 603.6,903.4 601.3,905.0 599.1,906.5 596.8,907.8 594.5,909.0 592.3,910.0 590.0,910.9 587.8,911.4 585.5,911.6 583.3,911.4 581.0,911.1 578.8,910.7 576.5,910.3 574.3,909.8 572.0,909.1 569.8,908.5 567.5,907.7 565.2,906.8 563.0,906.0 560.7,905.1 558.5,904.2 556.2,903.3 554.0,902.4 551.7,901.7 549.5,901.3 547.4,901.1 545.1,901.0 542.7,900.6 539.9,899.7 536.9,898.6 534.0,897.6 531.4,897.2 529.4,897.1 527.7,897.1 526.2,898.1 524.7,900.6 523.2,905.3 521.8,911.6 520.4,918.7 519.0,925.4 517.7,931.8 516.3,938.3 514.9,944.6 513.4,950.2 511.8,954.9 510.2,959.0 508.5,962.7 506.6,965.9 504.6,968.8 502.4,971.2 500.1,973.2 497.6,975.0 495.0,976.4 492.1,977.6 489.2,978.5 486.4,979.5 483.5,980.4 480.7,981.2 477.9,982.0 475.1,982.8 472.3,983.9 469.4,985.0 466.6,986.1 463.8,987.4 461.0,988.6 458.2,990.0 455.4,991.4 452.5,993.0 449.7,994.8 446.9,996.8 444.1,998.9 441.3,1000.9 438.2,1003.2 435.0,1005.6 432.1,1007.7 430.0,1008.8 429.3,1008.1 429.6,1006.2 429.8,1004.3 429.1,1003.6 427.1,1004.8 424.2,1007.1 420.9,1009.7 417.9,1011.5 415.1,1012.3 412.2,1012.7 409.4,1012.7 406.6,1012.6 403.8,1012.3 401.0,1011.7 398.1,1011.0 395.3,1010.3 392.5,1009.6 389.7,1008.8 386.9,1008.2 384.1,1008.1 381.2,1008.7 378.4,1009.9 375.6,1011.3 372.8,1012.6 370.0,1013.7 367.2,1014.8 364.3,1015.9 361.5,1017.1 358.7,1018.4 355.9,1019.8 353.1,1021.3 350.2,1022.7 347.4,1024.1 344.6,1025.5 341.8,1026.9 339.0,1028.4 336.2,1030.0 333.3,1031.7 330.5,1033.5 327.7,1035.1 324.9,1036.7 322.1,1038.2 319.3,1039.5 316.4,1040.8 313.6,1042.0 310.8,1043.2 308.0,1044.0 305.2,1044.1 302.3,1043.3 299.5,1041.7 296.7,1040.0 293.9,1038.5 291.1,1037.4 288.3,1036.5 285.4,1035.8 282.6,1035.1 279.8,1034.7 277.0,1034.6 274.2,1034.4 271.4,1034.0 268.4,1033.4 265.3,1032.6 262.4,1031.7 260.1,1030.6 258.5,1029.5 257.5,1028.2 256.7,1026.8 255.6,1025.0 254.0,1022.8 252.3,1020.3 250.6,1017.6 248.8,1014.8 247.1,1012.1 245.4,1009.3 243.7,1006.4 242.0,1003.6 240.4,1000.7 238.7,997.8 237.0,995.0 235.3,992.3 233.6,989.8 231.9,987.5 230.2,985.3 228.5,983.3 226.8,981.3 225.1,979.3 223.5,977.7 222.4,976.5" fill="#ffe7bf"/>
<polyline points="222.8,1035.7 231.4,1007.7 240.0,1006.1 248.6,1018.0 257.2,1015.9 265.8,1009.4 274.4,1009.6 283.0,1007.8 291.6,1003.4 300.2,1011.7 308.8,1013.3 317.4,1019.5 326.0,1014.5 334.6,1011.2 343.2,999.0 351.8,978.1 360.4,969.5 369.0,973.2 377.6,983.0 386.2,976.9 394.8,970.1 403.4,960.4 412.0,959.1 420.6,956.4 429.2,945.5 437.8,935.4 446.4,920.1 455.0,913.3 463.6,911.8 472.2,911.9 480.8,905.3 489.4,899.0 498.0,893.5 506.6,891.8 515.2,893.9 523.8,884.8 532.4,884.2 541.0,887.2 549.6,882.1 558.2,884.7 566.8,876.8 575.4,887.0 584.0,880.7 592.6,892.3 601.2,898.4 609.8,912.0 618.4,900.4 627.0,887.2 635.6,881.4 644.2,902.0" fill="none" stroke="#000" stroke-width="2.9"/>
<polyline points="219.0,1010.3 222.6,1011.9 226.2,1013.4 229.8,1014.8 233.4,1016.1 237.0,1017.3 240.6,1018.4 244.2,1019.4 247.8,1020.2 251.4,1021.0 255.1,1021.7 258.7,1022.4 262.3,1022.9 265.9,1023.3 269.5,1023.6 273.1,1023.9 276.7,1024.1 280.3,1024.1 283.9,1024.1 287.5,1024.1 291.1,1023.9 294.7,1023.7 298.3,1023.4 301.9,1023.0 305.5,1022.5 309.1,1022.0 312.7,1021.4 316.3,1020.7 319.9,1020.0 323.5,1019.2 327.2,1018.4 330.8,1017.5 334.4,1016.5 338.0,1015.4 341.6,1014.3 345.2,1013.2 348.8,1012.0 352.4,1010.7 356.0,1009.4 359.6,1008.1 363.2,1006.7 366.8,1005.2 370.4,1003.8 374.0,1002.2 377.6,1000.6 381.2,999.0 384.8,997.4 388.4,995.7 392.0,994.0 395.6,992.2 399.3,990.4 402.9,988.6 406.5,986.8 410.1,984.9 413.7,983.0 417.3,981.1 420.9,979.2 424.5,977.2 428.1,975.2 431.7,973.2 435.3,971.2 438.9,969.2 442.5,967.1 446.1,965.1 449.7,963.0 453.3,961.0 456.9,958.9 460.5,956.8 464.1,954.7 467.7,952.6 471.4,950.5 475.0,948.5 478.6,946.4 482.2,944.3 485.8,942.2 489.4,940.2 493.0,938.1 496.6,936.1 500.2,934.1 503.8,932.0 507.4,930.0 511.0,928.1 514.6,926.1 518.2,924.2 521.8,922.2 525.4,920.3 529.0,918.5 532.6,916.6 536.2,914.8 539.8,913.0 543.5,911.3 547.1,909.6 550.7,907.9 554.3,906.2 557.9,904.6 561.5,903.0 565.1,901.5 568.7,900.0 572.3,898.6 575.9,897.2 579.5,895.8 583.1,894.5 586.7,893.3 590.3,892.1 593.9,890.9 597.5,889.8 601.1,888.8 604.7,887.8 608.3,886.9 611.9,886.0 615.6,885.2 619.2,884.5 622.8,883.9 626.4,883.3 630.0,882.7 633.6,882.3 637.2,881.9 640.8,881.6 644.4,881.4 648.0,881.2" fill="none" stroke="#666" stroke-width="5.3"/>
<polyline points="222.4,947.2 223.5,948.8 225.1,951.0 226.8,953.6 228.5,956.2 230.2,958.8 231.9,961.4 233.6,964.3 235.3,967.5 237.0,971.1 238.7,975.1 240.4,979.2 242.0,983.3 243.8,987.3 245.5,991.4 247.2,995.4 248.8,999.1 250.3,1002.5 251.8,1005.7 253.1,1008.8 254.4,1011.5 255.6,1013.9 256.7,1016.0 257.8,1017.8 259.0,1019.3 260.2,1020.4 261.5,1021.1 262.9,1021.6 264.6,1022.0 266.6,1022.5 268.9,1022.9 271.3,1023.2 273.6,1023.4 275.9,1023.6 278.1,1023.6 280.4,1023.7 282.6,1023.9 284.9,1024.0 287.3,1024.2 289.5,1024.5 291.6,1025.0 293.5,1025.7 295.2,1026.6 296.8,1027.5 298.4,1028.4 300.0,1029.2 301.6,1030.0 303.3,1030.6 305.2,1031.1 307.3,1031.2 309.5,1031.1 311.9,1030.8 314.2,1030.6 316.4,1030.4 318.7,1030.2 320.9,1029.9 323.2,1029.5 325.5,1029.1 327.7,1028.6 330.0,1028.0 332.2,1027.2 334.5,1026.3 336.7,1025.3 339.0,1024.1 341.2,1022.7 343.5,1021.0 345.7,1019.1 348.0,1017.0 350.2,1014.8 352.6,1012.6 354.9,1010.2 357.2,1007.9 359.3,1005.8 361.1,1004.1 362.8,1002.6 364.4,1001.3 366.0,1000.2 367.7,999.2 369.3,998.5 370.9,997.8 372.8,997.3 374.9,996.8 377.2,996.4 379.5,996.0 381.8,995.7 384.1,995.2 386.3,994.8 388.6,994.4 390.8,994.1 393.1,994.0 395.3,993.9 397.6,994.0 399.8,994.1 402.1,994.3 404.5,994.5 406.8,994.8 408.9,995.0 410.7,995.1 412.4,995.2 414.0,995.2 415.6,995.0 417.3,994.6 419.0,994.1 420.7,993.5 422.4,992.7 424.2,991.8 426.1,990.8 427.9,989.7 429.1,988.9 429.6,988.5 429.4,988.5 429.3,988.3 430.0,987.8 431.7,986.7 434.0,985.3 436.6,983.7 439.0,982.2 441.3,980.5 443.5,978.7 445.8,976.9 448.0,975.4 450.3,974.1 452.5,972.9 454.8,971.9 457.0,970.9 459.3,969.9 461.6,969.1 463.8,968.3 466.1,967.5 468.3,966.7 470.6,966.0 472.8,965.4 475.1,964.8 477.3,964.4 479.6,964.1 481.8,963.8 484.1,963.4 486.4,963.0 488.7,962.5 491.0,961.9 493.1,961.2 495.0,960.4 496.6,959.6 498.2,958.6 499.9,957.4 501.6,955.7 503.4,953.9 505.1,951.8 506.6,949.5 507.9,947.0 509.0,944.5 510.1,941.6 511.1,938.2 512.3,934.2 513.4,929.6 514.5,924.8 515.7,920.2 516.8,915.5 517.9,910.7 519.0,906.1 520.2,902.1 521.3,898.9 522.4,896.1 523.5,893.8 524.7,892.0 525.7,890.6 526.8,889.8 527.9,889.3 529.2,889.1 530.7,889.1 532.4,889.5 534.2,890.0 535.9,890.4 537.6,890.8 539.2,891.1 540.9,891.5 542.7,892.0 544.9,892.5 547.2,893.0 549.6,893.6 551.7,894.2 553.6,894.9 555.2,895.6 556.8,896.3 558.5,897.2 560.2,898.2 561.9,899.4 563.6,900.6 565.2,901.7 566.9,902.7 568.6,903.7 570.3,904.7 572.0,905.5 573.7,906.2 575.4,906.9 577.1,907.4 578.8,907.8 580.5,908.0 582.2,908.1 583.8,908.1 585.5,907.8 587.2,907.2 588.9,906.4 590.6,905.4 592.3,904.4 594.0,903.4 595.7,902.3 597.4,901.2 599.1,899.9 600.7,898.4 602.4,896.7 604.1,894.9 605.8,893.1 607.5,891.2 609.2,889.1 610.9,887.1 612.6,885.2 614.3,883.6 616.0,882.0 617.7,880.6 619.3,879.6 621.0,879.0 622.7,878.7 624.4,878.6 626.1,878.5 627.8,878.4 629.5,878.5 631.2,878.5 632.9,878.5 634.6,878.3 636.3,878.0 637.9,877.6 639.6,877.3 641.5,877.0 643.4,876.7 645.2,876.4 646.4,876.2" fill="none" stroke="#ffa500" stroke-width="2.8"/>
<polygon points="222.8,1215.9 231.4,1242.5 240.0,1245.8 248.6,1223.5 257.2,1225.6 265.8,1226.5 274.4,1228.0 283.0,1233.1 291.6,1248.1 300.2,1235.8 308.8,1236.7 317.4,1228.5 326.0,1233.7 334.6,1238.5 343.2,1247.2 351.8,1272.9 360.4,1278.6 369.0,1277.8 377.6,1267.8 386.2,1270.6 394.8,1281.2 403.4,1291.9 412.0,1290.2 420.6,1295.0 429.2,1304.6 437.8,1312.8 446.4,1328.6 455.0,1339.0 463.6,1338.6 472.2,1337.9 480.8,1345.1 489.4,1349.1 498.0,1357.9 506.6,1361.2 515.2,1359.6 523.8,1366.5 532.4,1371.4 541.0,1365.2 549.6,1371.1 558.2,1368.7 566.8,1379.9 575.4,1363.7 584.0,1376.0 592.6,1361.3 601.2,1355.3 609.8,1347.3 618.4,1360.9 627.0,1368.5 635.6,1383.2 644.2,1363.5 644.2,1211.5 635.6,1233.2 627.0,1236.2 618.4,1217.3 609.8,1207.6 601.2,1227.0 592.6,1233.2 584.0,1241.8 575.4,1241.5 566.8,1245.8 558.2,1241.1 549.6,1243.8 541.0,1239.5 532.4,1239.4 523.8,1243.1 515.2,1231.8 506.6,1234.3 498.0,1234.1 489.4,1231.8 480.8,1223.3 472.2,1217.2 463.6,1216.6 455.0,1213.3 446.4,1209.9 437.8,1194.9 429.2,1182.7 420.6,1170.6 412.0,1169.9 403.4,1165.7 394.8,1156.7 386.2,1153.7 377.6,1144.3 369.0,1154.0 360.4,1160.5 351.8,1148.9 343.2,1132.6 334.6,1116.7 326.0,1115.0 317.4,1109.9 308.8,1114.2 300.2,1118.4 291.6,1122.7 283.0,1129.0 274.4,1130.4 265.8,1132.4 257.2,1120.1 248.6,1118.1 240.0,1119.7 231.4,1119.8 222.8,1090.0" fill="#e8e8e8"/>
<polygon points="222.4,1175.8 223.9,1176.4 226.0,1177.2 228.5,1178.1 230.8,1178.8 233.0,1179.1 235.2,1179.3 237.5,1179.4 239.8,1179.4 242.0,1179.4 244.3,1179.2 246.6,1179.0 248.8,1178.8 251.1,1178.4 253.3,1177.9 255.6,1177.4 257.8,1177.2 260.0,1177.1 262.2,1177.2 264.4,1177.4 266.8,1177.6 269.5,1178.0 272.3,1178.4 275.2,1178.8 278.1,1178.8 280.9,1178.2 283.8,1177.3 286.6,1176.3 289.4,1175.4 292.2,1174.5 295.0,1173.6 297.8,1172.8 300.7,1172.0 303.5,1171.3 306.3,1170.7 309.1,1170.2 311.9,1169.7 314.7,1169.4 317.6,1169.3 320.4,1169.1 323.2,1169.1 326.0,1168.9 328.8,1168.8 331.6,1168.8 334.5,1169.1 337.3,1169.5 340.2,1170.2 343.1,1171.1 345.7,1172.0 348.2,1173.0 350.4,1174.1 352.6,1175.3 354.8,1176.5 357.0,1177.8 359.3,1179.2 361.5,1180.7 363.8,1182.1 366.0,1183.5 368.3,1184.9 370.5,1186.4 372.8,1187.8 375.0,1189.2 377.3,1190.5 379.5,1191.9 381.8,1193.4 384.1,1194.9 386.3,1196.5 388.6,1198.1 390.8,1199.7 393.1,1201.2 395.3,1202.7 397.6,1204.2 399.8,1205.8 402.1,1207.6 404.3,1209.6 406.6,1211.6 408.9,1213.7 411.1,1215.9 413.4,1218.1 415.6,1220.4 417.9,1222.7 420.3,1225.0 422.7,1227.4 425.0,1229.6 426.9,1231.7 427.9,1233.5 428.4,1235.0 428.9,1236.6 430.0,1238.5 431.8,1240.9 434.1,1243.6 436.6,1246.3 439.0,1248.6 441.3,1250.4 443.5,1251.9 445.8,1253.1 448.0,1254.3 450.3,1255.3 452.5,1256.1 454.8,1256.9 457.0,1257.6 459.3,1258.4 461.6,1259.0 463.8,1259.7 466.1,1260.6 468.3,1261.7 470.6,1262.9 472.8,1264.2 475.1,1265.5 477.3,1266.9 479.6,1268.2 481.8,1269.7 484.1,1271.2 486.4,1272.8 488.6,1274.5 490.9,1276.3 493.1,1277.9 495.4,1279.5 497.6,1281.0 499.9,1282.3 502.1,1283.6 504.4,1284.6 506.6,1285.5 508.9,1286.3 511.1,1286.9 513.4,1287.5 515.7,1288.0 517.9,1288.4 520.2,1288.8 522.4,1289.0 524.7,1289.0 526.9,1289.1 529.2,1289.2 531.4,1289.4 533.7,1289.5 535.9,1289.7 538.2,1289.9 540.5,1290.0 542.7,1290.1 545.0,1290.2 547.2,1290.3 549.5,1290.5 551.7,1290.8 554.0,1291.1 556.2,1291.5 558.5,1291.9 560.7,1292.4 563.0,1293.0 565.2,1293.7 567.5,1294.5 569.8,1295.4 572.0,1296.4 574.3,1297.5 576.5,1298.9 578.8,1300.4 581.0,1302.1 583.3,1303.9 585.5,1305.7 587.8,1307.7 590.0,1309.7 592.3,1311.7 594.5,1313.8 596.8,1315.8 599.1,1317.8 601.3,1319.6 603.6,1321.3 605.8,1322.8 608.1,1324.1 610.3,1325.3 612.6,1326.1 614.8,1326.7 617.1,1327.1 619.3,1327.5 621.6,1327.8 623.9,1328.1 626.1,1328.2 628.4,1328.2 630.6,1328.1 632.8,1327.8 635.0,1327.4 637.4,1326.8 640.1,1326.0 643.0,1324.8 645.7,1323.8 647.5,1323.0 647.5,1344.4 645.7,1345.1 643.0,1346.0 640.1,1347.0 637.4,1347.8 635.0,1348.4 632.8,1348.9 630.6,1349.3 628.4,1349.4 626.1,1349.3 623.9,1349.0 621.6,1348.5 619.3,1347.8 617.1,1347.0 614.8,1345.9 612.6,1344.7 610.3,1343.3 608.1,1341.6 605.8,1339.6 603.6,1337.5 601.3,1335.4 599.1,1333.2 596.8,1330.9 594.5,1328.6 592.3,1326.4 590.0,1324.3 587.8,1322.2 585.5,1320.3 583.3,1318.5 581.0,1316.9 578.8,1315.3 576.5,1314.0 574.3,1312.9 572.0,1312.1 569.8,1311.5 567.5,1311.1 565.2,1310.6 563.0,1310.0 560.7,1309.4 558.5,1308.8 556.2,1308.4 554.0,1308.0 551.7,1307.7 549.5,1307.5 547.2,1307.2 545.0,1307.0 542.7,1306.8 540.5,1306.7 538.2,1306.6 535.9,1306.5 533.7,1306.5 531.4,1306.6 529.2,1306.6 526.9,1306.5 524.7,1306.4 522.4,1306.2 520.2,1306.1 517.9,1306.0 515.7,1306.0 513.4,1305.9 511.1,1305.7 508.9,1305.3 506.6,1304.9 504.4,1304.4 502.1,1303.9 499.9,1303.1 497.6,1302.3 495.4,1301.4 493.1,1300.5 490.9,1299.4 488.6,1298.4 486.4,1297.2 484.1,1296.0 481.8,1294.6 479.6,1293.1 477.3,1291.7 475.1,1290.3 472.8,1289.1 470.6,1287.9 468.3,1286.8 466.1,1285.8 463.8,1284.9 461.6,1284.2 459.3,1283.4 457.0,1282.4 454.8,1281.3 452.5,1280.0 450.3,1278.5 448.0,1276.8 445.7,1274.8 443.4,1272.4 441.2,1270.0 439.0,1267.8 436.9,1265.6 434.7,1263.5 432.8,1261.5 431.4,1259.9 430.8,1258.9 430.7,1258.3 430.6,1257.7 430.0,1256.5 428.6,1254.7 426.7,1252.5 424.5,1250.0 422.4,1247.5 420.2,1244.8 418.0,1241.9 415.6,1238.9 413.4,1236.2 411.1,1233.8 408.9,1231.4 406.6,1229.3 404.3,1227.2 402.1,1225.4 399.8,1223.7 397.6,1222.1 395.3,1220.5 393.1,1218.8 390.8,1217.1 388.6,1215.4 386.3,1213.7 384.1,1212.0 381.8,1210.3 379.5,1208.6 377.3,1206.9 375.0,1205.2 372.8,1203.5 370.5,1201.8 368.3,1200.2 366.0,1198.7 363.8,1197.3 361.5,1195.9 359.3,1194.5 357.0,1193.1 354.8,1191.6 352.5,1190.2 350.2,1188.9 348.0,1187.6 345.7,1186.4 343.5,1185.3 341.2,1184.4 339.0,1183.6 336.7,1183.0 334.5,1182.5 332.2,1182.1 330.0,1181.9 327.7,1181.7 325.5,1181.7 323.2,1181.7 320.9,1181.7 318.7,1181.7 316.4,1181.8 314.2,1182.1 311.9,1182.7 309.7,1183.6 307.4,1184.5 305.2,1185.5 302.9,1186.5 300.7,1187.6 298.4,1188.8 296.1,1190.0 293.9,1191.4 291.6,1193.0 289.4,1194.5 287.1,1195.7 284.9,1196.6 282.8,1197.3 280.5,1197.7 278.1,1197.9 275.4,1197.6 272.5,1197.0 269.6,1196.2 266.8,1195.7 264.4,1195.2 262.2,1194.9 260.0,1194.6 257.8,1194.5 255.6,1194.7 253.3,1195.0 251.1,1195.3 248.8,1195.7 246.6,1196.0 244.3,1196.3 242.0,1196.6 239.8,1196.8 237.5,1196.8 235.2,1196.8 233.0,1196.7 230.8,1196.8 228.5,1197.0 226.0,1197.3 223.9,1197.7 222.4,1197.9" fill="#d5a0ff"/>
<polyline points="222.8,1153.0 231.4,1181.1 240.0,1182.8 248.6,1170.8 257.2,1172.9 265.8,1179.5 274.4,1179.2 283.0,1181.1 291.6,1185.4 300.2,1177.1 308.8,1175.5 317.4,1169.2 326.0,1174.3 334.6,1177.6 343.2,1189.9 351.8,1210.9 360.4,1219.5 369.0,1215.9 377.6,1206.0 386.2,1212.2 394.8,1218.9 403.4,1228.8 412.0,1230.0 420.6,1232.8 429.2,1243.7 437.8,1253.9 446.4,1269.3 455.0,1276.1 463.6,1277.6 472.2,1277.5 480.8,1284.2 489.4,1290.5 498.0,1296.0 506.6,1297.8 515.2,1295.7 523.8,1304.8 532.4,1305.4 541.0,1302.3 549.6,1307.5 558.2,1304.9 566.8,1312.9 575.4,1302.6 584.0,1308.9 592.6,1297.2 601.2,1291.2 609.8,1277.5 618.4,1289.1 627.0,1302.4 635.6,1308.2 644.2,1287.5" fill="none" stroke="#000" stroke-width="2.9"/>
<polyline points="219.0,1194.8 222.6,1192.9 226.2,1191.2 229.8,1189.6 233.4,1188.1 237.0,1186.8 240.6,1185.5 244.2,1184.3 247.8,1183.2 251.4,1182.3 255.1,1181.4 258.7,1180.7 262.3,1180.0 265.9,1179.4 269.5,1178.9 273.1,1178.6 276.7,1178.3 280.3,1178.1 283.9,1178.0 287.5,1178.0 291.1,1178.0 294.7,1178.2 298.3,1178.4 301.9,1178.8 305.5,1179.2 309.1,1179.7 312.7,1180.2 316.3,1180.9 319.9,1181.6 323.5,1182.4 327.2,1183.2 330.8,1184.2 334.4,1185.2 338.0,1186.2 341.6,1187.4 345.2,1188.6 348.8,1189.9 352.4,1191.2 356.0,1192.6 359.6,1194.0 363.2,1195.5 366.8,1197.1 370.4,1198.7 374.0,1200.4 377.6,1202.1 381.2,1203.9 384.8,1205.7 388.4,1207.6 392.0,1209.5 395.6,1211.5 399.3,1213.5 402.9,1215.6 406.5,1217.6 410.1,1219.8 413.7,1222.0 417.3,1224.2 420.9,1226.4 424.5,1228.7 428.1,1231.0 431.7,1233.3 435.3,1235.7 438.9,1238.1 442.5,1240.5 446.1,1242.9 449.7,1245.4 453.3,1247.9 456.9,1250.4 460.5,1252.8 464.1,1255.4 467.7,1257.9 471.4,1260.4 475.0,1262.9 478.6,1265.4 482.2,1267.9 485.8,1270.4 489.4,1272.9 493.0,1275.3 496.6,1277.8 500.2,1280.2 503.8,1282.6 507.4,1285.0 511.0,1287.4 514.6,1289.7 518.2,1292.0 521.8,1294.3 525.4,1296.5 529.0,1298.7 532.6,1300.9 536.2,1303.0 539.8,1305.0 543.5,1307.0 547.1,1309.0 550.7,1310.9 554.3,1312.8 557.9,1314.5 561.5,1316.3 565.1,1318.0 568.7,1319.6 572.3,1321.1 575.9,1322.6 579.5,1324.1 583.1,1325.4 586.7,1326.8 590.3,1328.0 593.9,1329.2 597.5,1330.3 601.1,1331.3 604.7,1332.3 608.3,1333.2 611.9,1334.0 615.6,1334.8 619.2,1335.5 622.8,1336.1 626.4,1336.6 630.0,1337.1 633.6,1337.4 637.2,1337.7 640.8,1338.0 644.4,1338.1 648.0,1338.1" fill="none" stroke="#666" stroke-width="5.3"/>
<polyline points="222.4,1187.8 223.9,1187.8 226.0,1187.8 228.5,1187.8 230.8,1187.8 233.0,1187.8 235.2,1187.8 237.5,1187.8 239.8,1187.8 242.0,1187.6 244.3,1187.3 246.6,1187.0 248.8,1186.6 251.1,1186.2 253.3,1185.6 255.6,1185.1 257.8,1184.8 260.0,1184.9 262.2,1185.3 264.4,1185.7 266.8,1186.2 269.6,1186.8 272.6,1187.5 275.6,1188.1 278.1,1188.4 280.1,1188.4 281.8,1188.1 283.3,1187.7 284.9,1187.1 286.5,1186.3 288.1,1185.3 289.8,1184.2 291.6,1183.3 293.7,1182.4 296.0,1181.5 298.3,1180.7 300.7,1179.9 302.9,1179.1 305.2,1178.4 307.4,1177.7 309.7,1177.2 311.9,1176.7 314.2,1176.4 316.4,1176.1 318.7,1175.8 320.9,1175.6 323.2,1175.5 325.5,1175.4 327.7,1175.4 330.0,1175.4 332.2,1175.4 334.5,1175.5 336.7,1175.8 339.0,1176.3 341.2,1177.0 343.5,1177.8 345.7,1178.8 348.0,1179.7 350.2,1180.8 352.5,1182.0 354.8,1183.3 357.0,1184.7 359.3,1186.2 361.5,1187.8 363.8,1189.3 366.0,1190.8 368.3,1192.3 370.5,1193.8 372.8,1195.2 375.0,1196.6 377.3,1197.9 379.5,1199.2 381.8,1200.6 384.1,1202.1 386.3,1203.7 388.6,1205.3 390.8,1206.9 393.1,1208.7 395.3,1210.5 397.6,1212.3 399.8,1214.1 402.1,1215.9 404.3,1217.7 406.6,1219.5 408.9,1221.6 411.1,1223.9 413.4,1226.4 415.6,1229.0 417.9,1231.7 420.3,1234.6 422.7,1237.7 425.0,1240.6 426.9,1243.0 427.9,1244.5 428.4,1245.3 428.9,1246.1 430.0,1247.5 431.8,1249.7 434.1,1252.4 436.6,1255.1 439.0,1257.6 441.3,1259.9 443.5,1261.9 445.8,1263.9 448.0,1265.5 450.3,1266.9 452.5,1268.1 454.8,1269.1 457.0,1270.0 459.3,1270.8 461.6,1271.4 463.8,1271.9 466.1,1272.7 468.3,1273.9 470.6,1275.2 472.8,1276.5 475.1,1277.9 477.3,1279.3 479.6,1280.7 481.8,1282.1 484.1,1283.6 486.4,1285.0 488.6,1286.5 490.9,1287.9 493.1,1289.2 495.4,1290.4 497.6,1291.6 499.9,1292.7 502.1,1293.7 504.4,1294.6 506.6,1295.4 508.9,1296.1 511.1,1296.6 513.4,1297.0 515.7,1297.2 517.9,1297.4 520.2,1297.5 522.4,1297.7 524.7,1297.9 526.9,1298.1 529.2,1298.2 531.4,1298.2 533.7,1298.2 535.9,1298.2 538.2,1298.2 540.5,1298.3 542.7,1298.5 545.0,1298.7 547.2,1298.9 549.5,1299.1 551.7,1299.3 554.0,1299.5 556.2,1299.8 558.5,1300.1 560.7,1300.4 563.0,1300.7 565.2,1301.1 567.5,1301.7 569.8,1302.2 572.0,1302.9 574.3,1303.9 576.5,1305.0 578.8,1306.3 581.0,1307.9 583.3,1309.5 585.5,1311.3 587.8,1313.3 590.0,1315.4 592.3,1317.4 594.5,1319.4 596.8,1321.4 599.1,1323.4 601.3,1325.3 603.6,1327.1 605.8,1328.9 608.1,1330.5 610.3,1332.0 612.6,1333.4 614.8,1334.6 617.1,1335.7 619.3,1336.5 621.6,1337.2 623.9,1337.7 626.1,1338.0 628.4,1338.1 630.6,1338.1 632.9,1337.9 635.1,1337.6 637.4,1337.2 639.8,1336.6 642.4,1335.7 644.8,1334.9 646.4,1334.3" fill="none" stroke="#aa00ff" stroke-width="2.8"/>
</g>
<line x1="218.3" y1="0" x2="218.3" y2="1382" stroke="#333" stroke-width="1.3"/>
<line x1="217" y1="1.2" x2="649.5" y2="1.2" stroke="#222" stroke-width="2.8"/>
<line x1="217" y1="1382" x2="649.5" y2="1382" stroke="#222" stroke-width="2.2"/>
<line x1="261.5" y1="1" x2="261.5" y2="7" stroke="#222" stroke-width="2.2"/>
<line x1="261.5" y1="1376" x2="261.5" y2="1382" stroke="#222" stroke-width="2.2"/>
<line x1="304.5" y1="1" x2="304.5" y2="7" stroke="#222" stroke-width="2.2"/>
<line x1="304.5" y1="1376" x2="304.5" y2="1382" stroke="#222" stroke-width="2.2"/>
<line x1="347.5" y1="1" x2="347.5" y2="7" stroke="#222" stroke-width="2.2"/>
<line x1="347.5" y1="1376" x2="347.5" y2="1382" stroke="#222" stroke-width="2.2"/>
<line x1="390.5" y1="1" x2="390.5" y2="7" stroke="#222" stroke-width="2.2"/>
<line x1="390.5" y1="1376" x2="390.5" y2="1382" stroke="#222" stroke-width="2.2"/>
<line x1="433.5" y1="1" x2="433.5" y2="7" stroke="#222" stroke-width="2.2"/>
<line x1="433.5" y1="1376" x2="433.5" y2="1382" stroke="#222" stroke-width="2.2"/>
<line x1="476.5" y1="1" x2="476.5" y2="7" stroke="#222" stroke-width="2.2"/>
<line x1="476.5" y1="1376" x2="476.5" y2="1382" stroke="#222" stroke-width="2.2"/>
<line x1="519.5" y1="1" x2="519.5" y2="7" stroke="#222" stroke-width="2.2"/>
<line x1="519.5" y1="1376" x2="519.5" y2="1382" stroke="#222" stroke-width="2.2"/>
<line x1="562.5" y1="1" x2="562.5" y2="7" stroke="#222" stroke-width="2.2"/>
<line x1="562.5" y1="1376" x2="562.5" y2="1382" stroke="#222" stroke-width="2.2"/>
<line x1="605.5" y1="1" x2="605.5" y2="7" stroke="#222" stroke-width="2.2"/>
<line x1="605.5" y1="1376" x2="605.5" y2="1382" stroke="#222" stroke-width="2.2"/>
<line x1="648.6" y1="1" x2="648.6" y2="7" stroke="#222" stroke-width="2.2"/>
<line x1="648.6" y1="1376" x2="648.6" y2="1382" stroke="#222" stroke-width="2.2"/>
<line x1="648.3" y1="0" x2="648.3" y2="1382" stroke="#6e6e6e" stroke-width="1.5"/>
<line x1="218.3" y1="0" x2="218.3" y2="252" stroke="#111" stroke-width="2.6"/>
<line x1="218.3" y1="34" x2="223.60000000000002" y2="34" stroke="#111" stroke-width="2.4"/>
<line x1="218.3" y1="66.7" x2="223.60000000000002" y2="66.7" stroke="#111" stroke-width="2.4"/>
<line x1="218.3" y1="99.5" x2="223.60000000000002" y2="99.5" stroke="#111" stroke-width="2.4"/>
<line x1="218.3" y1="132.3" x2="223.60000000000002" y2="132.3" stroke="#111" stroke-width="2.4"/>
<line x1="218.3" y1="164.9" x2="223.60000000000002" y2="164.9" stroke="#111" stroke-width="2.4"/>
<line x1="218.3" y1="198" x2="223.60000000000002" y2="198" stroke="#111" stroke-width="2.4"/>
<line x1="218.3" y1="230.4" x2="223.60000000000002" y2="230.4" stroke="#111" stroke-width="2.4"/>
<line x1="218.3" y1="263.2" x2="223.60000000000002" y2="263.2" stroke="#111" stroke-width="2.4"/>
<text x="204.5" y="42" fill="#000" font-size="25" text-anchor="end" >−0.48</text>
<text x="204.5" y="107.5" fill="#000" font-size="25" text-anchor="end" >−0.49</text>
<text x="204.5" y="172.9" fill="#000" font-size="25" text-anchor="end" >−0.5</text>
<text x="204.5" y="238.4" fill="#000" font-size="25" text-anchor="end" >−0.51</text>
<line x1="648.3" y1="40" x2="648.3" y2="263.5" stroke="#8600c0" stroke-width="2.6"/>
<line x1="643.5" y1="263.55" x2="648.3" y2="263.55" stroke="#8600c0" stroke-width="2.4"/>
<line x1="643.5" y1="207.7" x2="648.3" y2="207.7" stroke="#8600c0" stroke-width="2.4"/>
<line x1="643.5" y1="151.85" x2="648.3" y2="151.85" stroke="#8600c0" stroke-width="2.4"/>
<line x1="643.5" y1="95.99999999999999" x2="648.3" y2="95.99999999999999" stroke="#8600c0" stroke-width="2.4"/>
<line x1="643.5" y1="40.14999999999998" x2="648.3" y2="40.14999999999998" stroke="#8600c0" stroke-width="2.4"/>
<text x="662" y="216.7" fill="#8600c0" font-size="25" text-anchor="start" >0</text>
<text x="662" y="160.85" fill="#8600c0" font-size="25" text-anchor="start" >0.5</text>
<text x="662" y="104.99999999999999" fill="#8600c0" font-size="25" text-anchor="start" >1</text>
<line x1="218.3" y1="252" x2="218.3" y2="523.6" stroke="#0000ff" stroke-width="2.7"/>
<line x1="218.3" y1="278.6" x2="223.10000000000002" y2="278.6" stroke="#0000ff" stroke-width="2.4"/>
<line x1="218.3" y1="333.3" x2="223.10000000000002" y2="333.3" stroke="#0000ff" stroke-width="2.4"/>
<line x1="218.3" y1="387.7" x2="223.10000000000002" y2="387.7" stroke="#0000ff" stroke-width="2.4"/>
<line x1="218.3" y1="442.8" x2="223.10000000000002" y2="442.8" stroke="#0000ff" stroke-width="2.4"/>
<line x1="218.3" y1="496.6" x2="223.10000000000002" y2="496.6" stroke="#0000ff" stroke-width="2.4"/>
<text x="204.5" y="315.6" fill="#0000ff" font-size="25" text-anchor="end" >1</text>
<text x="204.5" y="368.3" fill="#0000ff" font-size="25" text-anchor="end" >0.5</text>
<text x="204.5" y="420.6" fill="#0000ff" font-size="25" text-anchor="end" >0</text>
<text x="204.5" y="473.1" fill="#0000ff" font-size="25" text-anchor="end" >−0.5</text>
<text x="204.5" y="525.1" fill="#0000ff" font-size="25" text-anchor="end" >−1</text>
<line x1="648.3" y1="331.8" x2="648.3" y2="499" stroke="#666" stroke-width="2.6"/>
<line x1="643.5" y1="331.8" x2="648.3" y2="331.8" stroke="#666" stroke-width="2.4"/>
<line x1="643.5" y1="365.24" x2="648.3" y2="365.24" stroke="#666" stroke-width="2.4"/>
<line x1="643.5" y1="398.68" x2="648.3" y2="398.68" stroke="#666" stroke-width="2.4"/>
<line x1="643.5" y1="432.12" x2="648.3" y2="432.12" stroke="#666" stroke-width="2.4"/>
<line x1="643.5" y1="465.56" x2="648.3" y2="465.56" stroke="#666" stroke-width="2.4"/>
<line x1="643.5" y1="499.0" x2="648.3" y2="499.0" stroke="#666" stroke-width="2.4"/>
<text x="662" y="374.24" fill="#5f5f5f" font-size="25" text-anchor="start" >0.5</text>
<text x="662" y="407.68" fill="#5f5f5f" font-size="25" text-anchor="start" >1</text>
<text x="662" y="441.12" fill="#5f5f5f" font-size="25" text-anchor="start" >1.5</text>
<text x="662" y="474.56" fill="#5f5f5f" font-size="25" text-anchor="start" >2</text>
<line x1="838.2" y1="362.5" x2="838.2" y2="499.3" stroke="#333" stroke-width="2.4"/>
<line x1="832.7" y1="362.5" x2="838.2" y2="362.5" stroke="#333" stroke-width="2.4"/>
<text x="846" y="369.0" fill="#000" font-size="25" text-anchor="start" >−0.505</text>
<line x1="832.7" y1="396.6" x2="838.2" y2="396.6" stroke="#333" stroke-width="2.4"/>
<text x="846" y="403.1" fill="#000" font-size="25" text-anchor="start" >−0.5</text>
<line x1="832.7" y1="430.7" x2="838.2" y2="430.7" stroke="#333" stroke-width="2.4"/>
<text x="846" y="437.2" fill="#000" font-size="25" text-anchor="start" >−0.495</text>
<line x1="832.7" y1="464.8" x2="838.2" y2="464.8" stroke="#333" stroke-width="2.4"/>
<text x="846" y="471.3" fill="#000" font-size="25" text-anchor="start" >−0.49</text>
<line x1="832.7" y1="498.9" x2="838.2" y2="498.9" stroke="#333" stroke-width="2.4"/>
<text x="846" y="505.4" fill="#000" font-size="25" text-anchor="start" >−0.485</text>
<line x1="218.3" y1="556.5" x2="218.3" y2="819.5" stroke="#ff0000" stroke-width="2.7"/>
<line x1="218.3" y1="556.5" x2="223.10000000000002" y2="556.5" stroke="#ff0000" stroke-width="2.4"/>
<line x1="218.3" y1="600.1" x2="223.10000000000002" y2="600.1" stroke="#ff0000" stroke-width="2.4"/>
<line x1="218.3" y1="643.7" x2="223.10000000000002" y2="643.7" stroke="#ff0000" stroke-width="2.4"/>
<line x1="218.3" y1="687.3" x2="223.10000000000002" y2="687.3" stroke="#ff0000" stroke-width="2.4"/>
<line x1="218.3" y1="730.9" x2="223.10000000000002" y2="730.9" stroke="#ff0000" stroke-width="2.4"/>
<line x1="218.3" y1="774.5" x2="223.10000000000002" y2="774.5" stroke="#ff0000" stroke-width="2.4"/>
<line x1="218.3" y1="818.1" x2="223.10000000000002" y2="818.1" stroke="#ff0000" stroke-width="2.4"/>
<text x="204.5" y="608.1" fill="#ff0000" font-size="25" text-anchor="end" >1</text>
<text x="204.5" y="651.7" fill="#ff0000" font-size="25" text-anchor="end" >0.5</text>
<text x="204.5" y="695.3" fill="#ff0000" font-size="25" text-anchor="end" >0</text>
<text x="204.5" y="738.9" fill="#ff0000" font-size="25" text-anchor="end" >−0.5</text>
<text x="204.5" y="782.5" fill="#ff0000" font-size="25" text-anchor="end" >−1</text>
<line x1="648.3" y1="598.4" x2="648.3" y2="789" stroke="#666" stroke-width="2.6"/>
<line x1="643.5" y1="598.4" x2="648.3" y2="598.4" stroke="#666" stroke-width="2.4"/>
<line x1="643.5" y1="619.5799999999999" x2="648.3" y2="619.5799999999999" stroke="#666" stroke-width="2.4"/>
<line x1="643.5" y1="640.76" x2="648.3" y2="640.76" stroke="#666" stroke-width="2.4"/>
<line x1="643.5" y1="661.9399999999999" x2="648.3" y2="661.9399999999999" stroke="#666" stroke-width="2.4"/>
<line x1="643.5" y1="683.12" x2="648.3" y2="683.12" stroke="#666" stroke-width="2.4"/>
<line x1="643.5" y1="704.3" x2="648.3" y2="704.3" stroke="#666" stroke-width="2.4"/>
<line x1="643.5" y1="725.48" x2="648.3" y2="725.48" stroke="#666" stroke-width="2.4"/>
<line x1="643.5" y1="746.66" x2="648.3" y2="746.66" stroke="#666" stroke-width="2.4"/>
<line x1="643.5" y1="767.8399999999999" x2="648.3" y2="767.8399999999999" stroke="#666" stroke-width="2.4"/>
<line x1="643.5" y1="789.02" x2="648.3" y2="789.02" stroke="#666" stroke-width="2.4"/>
<text x="662" y="628.5799999999999" fill="#5f5f5f" font-size="25" text-anchor="start" >16</text>
<text x="662" y="649.76" fill="#5f5f5f" font-size="25" text-anchor="start" >14</text>
<text x="662" y="670.9399999999999" fill="#5f5f5f" font-size="25" text-anchor="start" >12</text>
<text x="662" y="692.12" fill="#5f5f5f" font-size="25" text-anchor="start" >10</text>
<text x="662" y="713.3" fill="#5f5f5f" font-size="25" text-anchor="start" >8</text>
<text x="662" y="734.48" fill="#5f5f5f" font-size="25" text-anchor="start" >6</text>
<text x="662" y="755.66" fill="#5f5f5f" font-size="25" text-anchor="start" >4</text>
<text x="662" y="776.8399999999999" fill="#5f5f5f" font-size="25" text-anchor="start" >2</text>
<line x1="838.2" y1="598.3" x2="838.2" y2="764.8" stroke="#333" stroke-width="2.4"/>
<line x1="832.7" y1="598.3" x2="838.2" y2="598.3" stroke="#333" stroke-width="2.4"/>
<text x="846" y="604.8" fill="#000" font-size="25" text-anchor="start" >−0.485</text>
<line x1="832.7" y1="639.93" x2="838.2" y2="639.93" stroke="#333" stroke-width="2.4"/>
<text x="846" y="646.43" fill="#000" font-size="25" text-anchor="start" >−0.49</text>
<line x1="832.7" y1="681.56" x2="838.2" y2="681.56" stroke="#333" stroke-width="2.4"/>
<text x="846" y="688.06" fill="#000" font-size="25" text-anchor="start" >−0.495</text>
<line x1="832.7" y1="723.1899999999999" x2="838.2" y2="723.1899999999999" stroke="#333" stroke-width="2.4"/>
<text x="846" y="729.6899999999999" fill="#000" font-size="25" text-anchor="start" >−0.5</text>
<line x1="832.7" y1="764.8199999999999" x2="838.2" y2="764.8199999999999" stroke="#333" stroke-width="2.4"/>
<text x="846" y="771.3199999999999" fill="#000" font-size="25" text-anchor="start" >−0.505</text>
<line x1="218.3" y1="837.1" x2="218.3" y2="1098.9" stroke="#ffa500" stroke-width="2.7"/>
<line x1="218.3" y1="837.1" x2="223.10000000000002" y2="837.1" stroke="#ffa500" stroke-width="2.4"/>
<line x1="218.3" y1="880.7" x2="223.10000000000002" y2="880.7" stroke="#ffa500" stroke-width="2.4"/>
<line x1="218.3" y1="924.3000000000001" x2="223.10000000000002" y2="924.3000000000001" stroke="#ffa500" stroke-width="2.4"/>
<line x1="218.3" y1="967.9000000000001" x2="223.10000000000002" y2="967.9000000000001" stroke="#ffa500" stroke-width="2.4"/>
<line x1="218.3" y1="1011.5" x2="223.10000000000002" y2="1011.5" stroke="#ffa500" stroke-width="2.4"/>
<line x1="218.3" y1="1055.1" x2="223.10000000000002" y2="1055.1" stroke="#ffa500" stroke-width="2.4"/>
<line x1="218.3" y1="1098.7" x2="223.10000000000002" y2="1098.7" stroke="#ffa500" stroke-width="2.4"/>
<text x="204.5" y="887.3000000000001" fill="#ffa500" font-size="25" text-anchor="end" >1</text>
<text x="204.5" y="930.9000000000001" fill="#ffa500" font-size="25" text-anchor="end" >0.5</text>
<text x="204.5" y="974.5000000000001" fill="#ffa500" font-size="25" text-anchor="end" >0</text>
<text x="204.5" y="1018.1" fill="#ffa500" font-size="25" text-anchor="end" >−0.5</text>
<text x="204.5" y="1061.6999999999998" fill="#ffa500" font-size="25" text-anchor="end" >−1</text>
<line x1="648.3" y1="872.8" x2="648.3" y2="1038.7" stroke="#666" stroke-width="2.6"/>
<line x1="643.5" y1="872.8" x2="648.3" y2="872.8" stroke="#666" stroke-width="2.4"/>
<line x1="643.5" y1="900.4499999999999" x2="648.3" y2="900.4499999999999" stroke="#666" stroke-width="2.4"/>
<line x1="643.5" y1="928.0999999999999" x2="648.3" y2="928.0999999999999" stroke="#666" stroke-width="2.4"/>
<line x1="643.5" y1="955.75" x2="648.3" y2="955.75" stroke="#666" stroke-width="2.4"/>
<line x1="643.5" y1="983.4" x2="648.3" y2="983.4" stroke="#666" stroke-width="2.4"/>
<line x1="643.5" y1="1011.05" x2="648.3" y2="1011.05" stroke="#666" stroke-width="2.4"/>
<line x1="643.5" y1="1038.6999999999998" x2="648.3" y2="1038.6999999999998" stroke="#666" stroke-width="2.4"/>
<text x="662" y="909.4499999999999" fill="#5f5f5f" font-size="25" text-anchor="start" >8</text>
<text x="662" y="937.0999999999999" fill="#5f5f5f" font-size="25" text-anchor="start" >6</text>
<text x="662" y="964.75" fill="#5f5f5f" font-size="25" text-anchor="start" >4</text>
<text x="662" y="992.4" fill="#5f5f5f" font-size="25" text-anchor="start" >2</text>
<text x="662" y="1020.05" fill="#5f5f5f" font-size="25" text-anchor="start" >0</text>
<line x1="838.2" y1="853.6" x2="838.2" y2="1028.5" stroke="#333" stroke-width="2.4"/>
<line x1="832.7" y1="853.6" x2="838.2" y2="853.6" stroke="#333" stroke-width="2.4"/>
<text x="846" y="860.1" fill="#000" font-size="25" text-anchor="start" >−0.485</text>
<line x1="832.7" y1="897.32" x2="838.2" y2="897.32" stroke="#333" stroke-width="2.4"/>
<text x="846" y="903.82" fill="#000" font-size="25" text-anchor="start" >−0.49</text>
<line x1="832.7" y1="941.04" x2="838.2" y2="941.04" stroke="#333" stroke-width="2.4"/>
<text x="846" y="947.54" fill="#000" font-size="25" text-anchor="start" >−0.495</text>
<line x1="832.7" y1="984.76" x2="838.2" y2="984.76" stroke="#333" stroke-width="2.4"/>
<text x="846" y="991.26" fill="#000" font-size="25" text-anchor="start" >−0.5</text>
<line x1="832.7" y1="1028.48" x2="838.2" y2="1028.48" stroke="#333" stroke-width="2.4"/>
<text x="846" y="1034.98" fill="#000" font-size="25" text-anchor="start" >−0.505</text>
<line x1="218.3" y1="1120.1" x2="218.3" y2="1382" stroke="#aa00ff" stroke-width="2.7"/>
<line x1="218.3" y1="1120.1" x2="223.10000000000002" y2="1120.1" stroke="#aa00ff" stroke-width="2.4"/>
<line x1="218.3" y1="1157.55" x2="223.10000000000002" y2="1157.55" stroke="#aa00ff" stroke-width="2.4"/>
<line x1="218.3" y1="1195.0" x2="223.10000000000002" y2="1195.0" stroke="#aa00ff" stroke-width="2.4"/>
<line x1="218.3" y1="1232.4499999999998" x2="223.10000000000002" y2="1232.4499999999998" stroke="#aa00ff" stroke-width="2.4"/>
<line x1="218.3" y1="1269.8999999999999" x2="223.10000000000002" y2="1269.8999999999999" stroke="#aa00ff" stroke-width="2.4"/>
<line x1="218.3" y1="1307.35" x2="223.10000000000002" y2="1307.35" stroke="#aa00ff" stroke-width="2.4"/>
<line x1="218.3" y1="1344.8" x2="223.10000000000002" y2="1344.8" stroke="#aa00ff" stroke-width="2.4"/>
<text x="204.5" y="1164.75" fill="#aa00ff" font-size="25" text-anchor="end" >1</text>
<text x="204.5" y="1202.2" fill="#aa00ff" font-size="25" text-anchor="end" >0.5</text>
<text x="204.5" y="1239.6499999999999" fill="#aa00ff" font-size="25" text-anchor="end" >0</text>
<text x="204.5" y="1277.1" fill="#aa00ff" font-size="25" text-anchor="end" >−0.5</text>
<text x="204.5" y="1314.55" fill="#aa00ff" font-size="25" text-anchor="end" >−1</text>
<text x="204.5" y="1352.0" fill="#aa00ff" font-size="25" text-anchor="end" >−1.5</text>
<line x1="648.3" y1="1163.9" x2="648.3" y2="1349.9" stroke="#666" stroke-width="2.6"/>
<line x1="643.5" y1="1163.9" x2="648.3" y2="1163.9" stroke="#666" stroke-width="2.4"/>
<line x1="643.5" y1="1194.8300000000002" x2="648.3" y2="1194.8300000000002" stroke="#666" stroke-width="2.4"/>
<line x1="643.5" y1="1225.76" x2="648.3" y2="1225.76" stroke="#666" stroke-width="2.4"/>
<line x1="643.5" y1="1256.69" x2="648.3" y2="1256.69" stroke="#666" stroke-width="2.4"/>
<line x1="643.5" y1="1287.6200000000001" x2="648.3" y2="1287.6200000000001" stroke="#666" stroke-width="2.4"/>
<line x1="643.5" y1="1318.5500000000002" x2="648.3" y2="1318.5500000000002" stroke="#666" stroke-width="2.4"/>
<line x1="643.5" y1="1349.48" x2="648.3" y2="1349.48" stroke="#666" stroke-width="2.4"/>
<text x="662" y="1203.8300000000002" fill="#5f5f5f" font-size="25" text-anchor="start" >0</text>
<text x="662" y="1234.76" fill="#5f5f5f" font-size="25" text-anchor="start" >2</text>
<text x="662" y="1265.69" fill="#5f5f5f" font-size="25" text-anchor="start" >4</text>
<text x="662" y="1296.6200000000001" fill="#5f5f5f" font-size="25" text-anchor="start" >6</text>
<text x="662" y="1327.5500000000002" fill="#5f5f5f" font-size="25" text-anchor="start" >8</text>
<line x1="838.2" y1="1160.2" x2="838.2" y2="1336.2" stroke="#333" stroke-width="2.4"/>
<line x1="832.7" y1="1160.2" x2="838.2" y2="1160.2" stroke="#333" stroke-width="2.4"/>
<text x="846" y="1166.7" fill="#000" font-size="25" text-anchor="start" >−0.505</text>
<line x1="832.7" y1="1204.2" x2="838.2" y2="1204.2" stroke="#333" stroke-width="2.4"/>
<text x="846" y="1210.7" fill="#000" font-size="25" text-anchor="start" >−0.5</text>
<line x1="832.7" y1="1248.2" x2="838.2" y2="1248.2" stroke="#333" stroke-width="2.4"/>
<text x="846" y="1254.7" fill="#000" font-size="25" text-anchor="start" >−0.495</text>
<line x1="832.7" y1="1292.2" x2="838.2" y2="1292.2" stroke="#333" stroke-width="2.4"/>
<text x="846" y="1298.7" fill="#000" font-size="25" text-anchor="start" >−0.49</text>
<line x1="832.7" y1="1336.2" x2="838.2" y2="1336.2" stroke="#333" stroke-width="2.4"/>
<text x="846" y="1342.7" fill="#000" font-size="25" text-anchor="start" >−0.485</text>
<text x="218.5" y="1414" fill="#000" font-size="25" text-anchor="middle" >0</text>
<text x="261.5" y="1414" fill="#000" font-size="25" text-anchor="middle" >1</text>
<text x="304.5" y="1414" fill="#000" font-size="25" text-anchor="middle" >2</text>
<text x="347.5" y="1414" fill="#000" font-size="25" text-anchor="middle" >3</text>
<text x="390.5" y="1414" fill="#000" font-size="25" text-anchor="middle" >4</text>
<text x="433.5" y="1414" fill="#000" font-size="25" text-anchor="middle" >5</text>
<text x="476.5" y="1414" fill="#000" font-size="25" text-anchor="middle" >6</text>
<text x="519.5" y="1414" fill="#000" font-size="25" text-anchor="middle" >7</text>
<text x="562.5" y="1414" fill="#000" font-size="25" text-anchor="middle" >8</text>
<text x="605.5" y="1414" fill="#000" font-size="25" text-anchor="middle" >9</text>
<text x="648.5" y="1414" fill="#000" font-size="25" text-anchor="middle" >10</text>
<text x="433" y="1449" fill="#000" font-size="25" text-anchor="middle" >Age (kyr BP)</text>
<line x1="606.2" y1="213.5" x2="606.2" y2="181.6" stroke="#000" stroke-width="1.4"/>
<polygon points="606.2,173.6 611.2,189.9 606.2,186.79999999999998 601.2,189.9" fill="#000"/>
<line x1="580.5" y1="331.5" x2="580.5" y2="363.1" stroke="#000" stroke-width="1.4"/>
<polygon points="580.5,371.1 585.5,354.8 580.5,357.90000000000003 575.5,354.8" fill="#000"/>
<line x1="606.2" y1="331.5" x2="606.2" y2="363.1" stroke="#858585" stroke-width="1.4"/>
<polygon points="606.2,371.1 611.2,354.8 606.2,357.90000000000003 601.2,354.8" fill="#666"/>
<line x1="580.5" y1="788.8" x2="580.5" y2="756.2" stroke="#000" stroke-width="1.4"/>
<polygon points="580.5,748.2 585.5,764.5 580.5,761.4000000000001 575.5,764.5" fill="#000"/>
<line x1="606.2" y1="788.8" x2="606.2" y2="756.2" stroke="#858585" stroke-width="1.4"/>
<polygon points="606.2,748.2 611.2,764.5 606.2,761.4000000000001 601.2,764.5" fill="#666"/>
<line x1="580.5" y1="1038.5" x2="580.5" y2="1007" stroke="#000" stroke-width="1.4"/>
<polygon points="580.5,999 585.5,1015.3 580.5,1012.2 575.5,1015.3" fill="#000"/>
<line x1="606.2" y1="1038.5" x2="606.2" y2="1007" stroke="#858585" stroke-width="1.4"/>
<polygon points="606.2,999 611.2,1015.3 606.2,1012.2 601.2,1015.3" fill="#666"/>
<line x1="580.5" y1="1164" x2="580.5" y2="1195.6" stroke="#000" stroke-width="1.4"/>
<polygon points="580.5,1203.6 585.5,1187.3 580.5,1190.3999999999999 575.5,1187.3" fill="#000"/>
<line x1="606.2" y1="1164" x2="606.2" y2="1195.6" stroke="#858585" stroke-width="1.4"/>
<polygon points="606.2,1203.6 611.2,1187.3 606.2,1190.3999999999999 601.2,1187.3" fill="#666"/>
<text x="439" y="296.6" fill="#000" font-size="25" text-anchor="middle" >NH mid-latitudes</text>
<text x="439" y="570.7" fill="#000" font-size="25" text-anchor="middle" >Africa</text>
<text x="439" y="1133.2" fill="#000" font-size="25" text-anchor="middle" >South America</text>
<text x="-1" y="22.5" font-size="42" font-weight="bold" fill="#000">a</text>
<text x="-1" y="293.6" font-size="42" font-weight="bold" fill="#000">b</text>
<text x="-1" y="580.8" font-size="42" font-weight="bold" fill="#000">c</text>
<text x="-1" y="865" font-size="42" font-weight="bold" fill="#000">d</text>
<text x="-1" y="1139" font-size="42" font-weight="bold" fill="#000">e</text>
<text transform="translate(83.9,131.65) rotate(-90)" x="0" y="0" fill="#000" font-size="25" text-anchor="middle">Slope of LTG (K per</text>
<text transform="translate(113.9,132.9) rotate(-90)" x="0" y="0" fill="#000" font-size="25" text-anchor="middle">degree of latitude)</text>
<text transform="translate(98.0,386.6) rotate(-90)" x="0" y="0" fill="#0000ff" font-size="25" text-anchor="middle">NH mid-latitude net</text>
<text transform="translate(128.1,387.9) rotate(-90)" x="0" y="0" fill="#0000ff" font-size="25" text-anchor="middle">precipitation (SD units)</text>
<text transform="translate(98.3,688.3) rotate(-90)" x="0" y="0" fill="#ff0000" font-size="25" text-anchor="middle">African Monsoon</text>
<text transform="translate(128.4,687.9) rotate(-90)" x="0" y="0" fill="#ff0000" font-size="25" text-anchor="middle">(SD units)</text>
<text transform="translate(64.6,967.9) rotate(-90)" x="0" y="0" fill="#ffa500" font-size="25" text-anchor="middle">Southern African</text>
<text transform="translate(94.3,967.9) rotate(-90)" x="0" y="0" fill="#ffa500" font-size="25" text-anchor="middle">Precipitation Dipole</text>
<text transform="translate(124.8,967.7) rotate(-90)" x="0" y="0" fill="#ffa500" font-size="25" text-anchor="middle">(SD units)</text>
<text transform="translate(94.8,1250.2) rotate(-90)" x="0" y="0" fill="#aa00ff" font-size="25" text-anchor="middle">South American</text>
<text transform="translate(124.3,1251.5) rotate(-90)" x="0" y="0" fill="#aa00ff" font-size="25" text-anchor="middle">Monsoon (SD units)</text>
<text transform="translate(737.4,152.3) rotate(-90)" x="0" y="0" fill="#8600c0" font-size="25" text-anchor="middle">NH extra-tropical to tropical</text>
<text transform="translate(768.1,152.9) rotate(-90)" x="0" y="0" fill="#8600c0" font-size="25" text-anchor="middle">temperature contrast (°C)</text>
<text transform="translate(738.2,416) rotate(-90)" x="0" y="0" fill="#5f5f5f" font-size="25" text-anchor="middle">60°N minus 30°N</text>
<text transform="translate(768.6,415) rotate(-90)" x="0" y="0" fill="#5f5f5f" font-size="25" text-anchor="middle">insolation contrast</text>
<text transform="translate(798.3,415) rotate(-90)" fill="#5f5f5f" font-size="25" text-anchor="middle">(W m<tspan font-size="16.5" dy="-8">−2</tspan><tspan dy="8">)</tspan></text>
<text transform="translate(731.8,693.55) rotate(-90)" x="0" y="0" fill="#5f5f5f" font-size="25" text-anchor="middle">JJA Insolation contrast</text>
<text transform="translate(761.6,693) rotate(-90)" x="0" y="0" fill="#5f5f5f" font-size="25" text-anchor="middle">(30°N minus 30°S</text>
<text transform="translate(791.9,693.35) rotate(-90)" fill="#5f5f5f" font-size="25" text-anchor="middle">in W m<tspan font-size="16.5" dy="-8">−2</tspan><tspan dy="8">)</tspan></text>
<text transform="translate(718.4,1110.85) rotate(-90)" x="0" y="0" fill="#5f5f5f" font-size="25" text-anchor="middle">DJF Insolation contrast (30°N minus 30°S</text>
<text transform="translate(748.1,1111.3) rotate(-90)" fill="#5f5f5f" font-size="25" text-anchor="middle">in W m<tspan font-size="16.5" dy="-8">−2</tspan><tspan dy="8">)</tspan></text>
<text transform="translate(970.4,563.4) rotate(-90)" x="0" y="0" fill="#000" font-size="25" text-anchor="middle">Slope of LTG&#160; (K per degree of latitude)</text>
<text transform="translate(970.4,1095) rotate(-90)" x="0" y="0" fill="#000" font-size="25" text-anchor="middle">Slope of LTG&#160; (K per degree of latitude)</text>
</svg></body></html>
